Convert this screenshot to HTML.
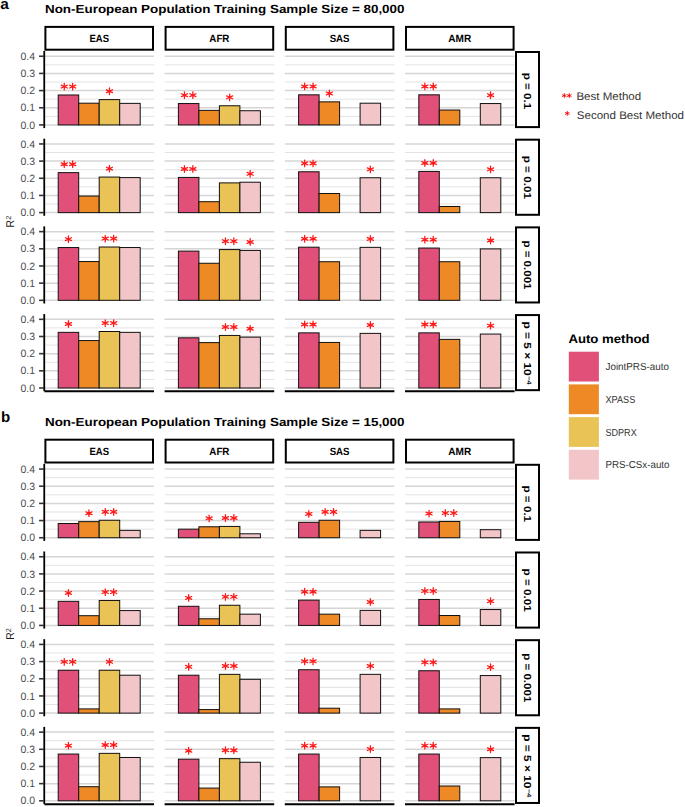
<!DOCTYPE html>
<html><head><meta charset="utf-8"><title>R2 by auto method</title>
<style>html,body{margin:0;padding:0;background:#fff;}svg{display:block;}</style>
</head><body>
<svg width="685" height="807" viewBox="0 0 685 807" text-rendering="geometricPrecision" font-family='"Liberation Sans", sans-serif'>
<rect width="685" height="807" fill="#fff"/>
<g>
<text x="0.3" y="8.8" font-size="15" font-weight="bold" textLength="8.6" lengthAdjust="spacingAndGlyphs">a</text>
<text x="45" y="13" font-size="11.8" font-weight="bold" textLength="359.5" lengthAdjust="spacingAndGlyphs">Non-European Population Training Sample Size = 80,000</text>
<rect x="45.4" y="26.9" width="107.6" height="22.8" fill="#fff" stroke="#000" stroke-width="2"/>
<text x="99.2" y="41.7" font-size="10.5" font-weight="bold" text-anchor="middle" textLength="19.6" lengthAdjust="spacingAndGlyphs">EAS</text>
<rect x="165.6" y="26.9" width="107.6" height="22.8" fill="#fff" stroke="#000" stroke-width="2"/>
<text x="219.4" y="41.7" font-size="10.5" font-weight="bold" text-anchor="middle" textLength="20.1" lengthAdjust="spacingAndGlyphs">AFR</text>
<rect x="285.8" y="26.9" width="107.6" height="22.8" fill="#fff" stroke="#000" stroke-width="2"/>
<text x="339.6" y="41.7" font-size="10.5" font-weight="bold" text-anchor="middle" textLength="19.9" lengthAdjust="spacingAndGlyphs">SAS</text>
<rect x="406" y="26.9" width="107.6" height="22.8" fill="#fff" stroke="#000" stroke-width="2"/>
<text x="459.8" y="41.7" font-size="10.5" font-weight="bold" text-anchor="middle" textLength="22.9" lengthAdjust="spacingAndGlyphs">AMR</text>
<line x1="44.4" y1="124.93" x2="154" y2="124.93" stroke="#D6D6D6" stroke-width="1.5"/>
<line x1="44.4" y1="116.35" x2="154" y2="116.35" stroke="#E3E3E3" stroke-width="1"/>
<line x1="44.4" y1="107.76" x2="154" y2="107.76" stroke="#D6D6D6" stroke-width="1.5"/>
<line x1="44.4" y1="99.18" x2="154" y2="99.18" stroke="#E3E3E3" stroke-width="1"/>
<line x1="44.4" y1="90.59" x2="154" y2="90.59" stroke="#D6D6D6" stroke-width="1.5"/>
<line x1="44.4" y1="82.01" x2="154" y2="82.01" stroke="#E3E3E3" stroke-width="1"/>
<line x1="44.4" y1="73.42" x2="154" y2="73.42" stroke="#D6D6D6" stroke-width="1.5"/>
<line x1="44.4" y1="64.84" x2="154" y2="64.84" stroke="#E3E3E3" stroke-width="1"/>
<line x1="44.4" y1="56.25" x2="154" y2="56.25" stroke="#D6D6D6" stroke-width="1.5"/>
<rect x="58.2" y="94.99" width="20.5" height="29.94" fill="#E05079" stroke="#111" stroke-width="1"/>
<rect x="78.7" y="103.2" width="20.5" height="21.73" fill="#EE8A26" stroke="#111" stroke-width="1"/>
<rect x="99.2" y="99.61" width="20.5" height="25.33" fill="#EAC356" stroke="#111" stroke-width="1"/>
<rect x="119.7" y="103.37" width="20.5" height="21.56" fill="#F2C5C9" stroke="#111" stroke-width="1"/>
<path stroke="#FF1A1A" stroke-width="1.3" stroke-linecap="round" fill="none" d="M64.25 83.29L64.25 89.89M61.21 85.17L67.29 88M61.21 88L67.29 85.17M63.5 86.59a0.75 0.75 0 1 0 1.5 0a0.75 0.75 0 1 0 -1.5 0"/>
<path stroke="#FF1A1A" stroke-width="1.3" stroke-linecap="round" fill="none" d="M72.65 83.29L72.65 89.89M69.61 85.17L75.69 88M69.61 88L75.69 85.17M71.9 86.59a0.75 0.75 0 1 0 1.5 0a0.75 0.75 0 1 0 -1.5 0"/>
<path stroke="#FF1A1A" stroke-width="1.3" stroke-linecap="round" fill="none" d="M109.45 87.91L109.45 94.5M106.41 89.79L112.49 92.62M106.41 92.62L112.49 89.79M108.7 91.2a0.75 0.75 0 1 0 1.5 0a0.75 0.75 0 1 0 -1.5 0"/>
<line x1="164.6" y1="124.93" x2="274.2" y2="124.93" stroke="#D6D6D6" stroke-width="1.5"/>
<line x1="164.6" y1="116.35" x2="274.2" y2="116.35" stroke="#E3E3E3" stroke-width="1"/>
<line x1="164.6" y1="107.76" x2="274.2" y2="107.76" stroke="#D6D6D6" stroke-width="1.5"/>
<line x1="164.6" y1="99.18" x2="274.2" y2="99.18" stroke="#E3E3E3" stroke-width="1"/>
<line x1="164.6" y1="90.59" x2="274.2" y2="90.59" stroke="#D6D6D6" stroke-width="1.5"/>
<line x1="164.6" y1="82.01" x2="274.2" y2="82.01" stroke="#E3E3E3" stroke-width="1"/>
<line x1="164.6" y1="73.42" x2="274.2" y2="73.42" stroke="#D6D6D6" stroke-width="1.5"/>
<line x1="164.6" y1="64.84" x2="274.2" y2="64.84" stroke="#E3E3E3" stroke-width="1"/>
<line x1="164.6" y1="56.25" x2="274.2" y2="56.25" stroke="#D6D6D6" stroke-width="1.5"/>
<rect x="178.4" y="103.54" width="20.5" height="21.39" fill="#E05079" stroke="#111" stroke-width="1"/>
<rect x="198.9" y="110.38" width="20.5" height="14.55" fill="#EE8A26" stroke="#111" stroke-width="1"/>
<rect x="219.4" y="105.76" width="20.5" height="19.17" fill="#EAC356" stroke="#111" stroke-width="1"/>
<rect x="239.9" y="110.72" width="20.5" height="14.21" fill="#F2C5C9" stroke="#111" stroke-width="1"/>
<path stroke="#FF1A1A" stroke-width="1.3" stroke-linecap="round" fill="none" d="M184.45 91.84L184.45 98.44M181.41 93.72L187.49 96.55M181.41 96.55L187.49 93.72M183.7 95.14a0.75 0.75 0 1 0 1.5 0a0.75 0.75 0 1 0 -1.5 0"/>
<path stroke="#FF1A1A" stroke-width="1.3" stroke-linecap="round" fill="none" d="M192.85 91.84L192.85 98.44M189.81 93.72L195.89 96.55M189.81 96.55L195.89 93.72M192.1 95.14a0.75 0.75 0 1 0 1.5 0a0.75 0.75 0 1 0 -1.5 0"/>
<path stroke="#FF1A1A" stroke-width="1.3" stroke-linecap="round" fill="none" d="M229.65 94.06L229.65 100.66M226.61 95.95L232.69 98.78M226.61 98.78L232.69 95.95M228.9 97.36a0.75 0.75 0 1 0 1.5 0a0.75 0.75 0 1 0 -1.5 0"/>
<line x1="284.8" y1="124.93" x2="394.4" y2="124.93" stroke="#D6D6D6" stroke-width="1.5"/>
<line x1="284.8" y1="116.35" x2="394.4" y2="116.35" stroke="#E3E3E3" stroke-width="1"/>
<line x1="284.8" y1="107.76" x2="394.4" y2="107.76" stroke="#D6D6D6" stroke-width="1.5"/>
<line x1="284.8" y1="99.18" x2="394.4" y2="99.18" stroke="#E3E3E3" stroke-width="1"/>
<line x1="284.8" y1="90.59" x2="394.4" y2="90.59" stroke="#D6D6D6" stroke-width="1.5"/>
<line x1="284.8" y1="82.01" x2="394.4" y2="82.01" stroke="#E3E3E3" stroke-width="1"/>
<line x1="284.8" y1="73.42" x2="394.4" y2="73.42" stroke="#D6D6D6" stroke-width="1.5"/>
<line x1="284.8" y1="64.84" x2="394.4" y2="64.84" stroke="#E3E3E3" stroke-width="1"/>
<line x1="284.8" y1="56.25" x2="394.4" y2="56.25" stroke="#D6D6D6" stroke-width="1.5"/>
<rect x="298.6" y="94.82" width="20.5" height="30.11" fill="#E05079" stroke="#111" stroke-width="1"/>
<rect x="319.1" y="101.83" width="20.5" height="23.1" fill="#EE8A26" stroke="#111" stroke-width="1"/>
<rect x="360.1" y="103.2" width="20.5" height="21.73" fill="#F2C5C9" stroke="#111" stroke-width="1"/>
<path stroke="#FF1A1A" stroke-width="1.3" stroke-linecap="round" fill="none" d="M304.65 83.12L304.65 89.72M301.61 85L307.69 87.83M301.61 87.83L307.69 85M303.9 86.42a0.75 0.75 0 1 0 1.5 0a0.75 0.75 0 1 0 -1.5 0"/>
<path stroke="#FF1A1A" stroke-width="1.3" stroke-linecap="round" fill="none" d="M313.05 83.12L313.05 89.72M310.01 85L316.09 87.83M310.01 87.83L316.09 85M312.3 86.42a0.75 0.75 0 1 0 1.5 0a0.75 0.75 0 1 0 -1.5 0"/>
<path stroke="#FF1A1A" stroke-width="1.3" stroke-linecap="round" fill="none" d="M329.35 90.13L329.35 96.73M326.31 92.01L332.39 94.84M326.31 94.84L332.39 92.01M328.6 93.43a0.75 0.75 0 1 0 1.5 0a0.75 0.75 0 1 0 -1.5 0"/>
<line x1="405" y1="124.93" x2="514.6" y2="124.93" stroke="#D6D6D6" stroke-width="1.5"/>
<line x1="405" y1="116.35" x2="514.6" y2="116.35" stroke="#E3E3E3" stroke-width="1"/>
<line x1="405" y1="107.76" x2="514.6" y2="107.76" stroke="#D6D6D6" stroke-width="1.5"/>
<line x1="405" y1="99.18" x2="514.6" y2="99.18" stroke="#E3E3E3" stroke-width="1"/>
<line x1="405" y1="90.59" x2="514.6" y2="90.59" stroke="#D6D6D6" stroke-width="1.5"/>
<line x1="405" y1="82.01" x2="514.6" y2="82.01" stroke="#E3E3E3" stroke-width="1"/>
<line x1="405" y1="73.42" x2="514.6" y2="73.42" stroke="#D6D6D6" stroke-width="1.5"/>
<line x1="405" y1="64.84" x2="514.6" y2="64.84" stroke="#E3E3E3" stroke-width="1"/>
<line x1="405" y1="56.25" x2="514.6" y2="56.25" stroke="#D6D6D6" stroke-width="1.5"/>
<rect x="418.8" y="94.82" width="20.5" height="30.11" fill="#E05079" stroke="#111" stroke-width="1"/>
<rect x="439.3" y="110.04" width="20.5" height="14.89" fill="#EE8A26" stroke="#111" stroke-width="1"/>
<rect x="480.3" y="103.54" width="20.5" height="21.39" fill="#F2C5C9" stroke="#111" stroke-width="1"/>
<path stroke="#FF1A1A" stroke-width="1.3" stroke-linecap="round" fill="none" d="M424.85 83.12L424.85 89.72M421.81 85L427.89 87.83M421.81 87.83L427.89 85M424.1 86.42a0.75 0.75 0 1 0 1.5 0a0.75 0.75 0 1 0 -1.5 0"/>
<path stroke="#FF1A1A" stroke-width="1.3" stroke-linecap="round" fill="none" d="M433.25 83.12L433.25 89.72M430.21 85L436.29 87.83M430.21 87.83L436.29 85M432.5 86.42a0.75 0.75 0 1 0 1.5 0a0.75 0.75 0 1 0 -1.5 0"/>
<path stroke="#FF1A1A" stroke-width="1.3" stroke-linecap="round" fill="none" d="M490.55 91.84L490.55 98.44M487.51 93.72L493.59 96.55M487.51 96.55L493.59 93.72M489.8 95.14a0.75 0.75 0 1 0 1.5 0a0.75 0.75 0 1 0 -1.5 0"/>
<line x1="44.25" y1="51" x2="44.25" y2="128.1" stroke="#000" stroke-width="1.8"/>
<line x1="39.1" y1="124.93" x2="44" y2="124.93" stroke="#333" stroke-width="1.6"/>
<text x="35" y="128.53" font-size="10.6" fill="#4D4D4D" text-anchor="end" textLength="14.6" lengthAdjust="spacingAndGlyphs">0.0</text>
<line x1="39.1" y1="107.76" x2="44" y2="107.76" stroke="#333" stroke-width="1.6"/>
<text x="35" y="111.36" font-size="10.6" fill="#4D4D4D" text-anchor="end" textLength="14.6" lengthAdjust="spacingAndGlyphs">0.1</text>
<line x1="39.1" y1="90.59" x2="44" y2="90.59" stroke="#333" stroke-width="1.6"/>
<text x="35" y="94.19" font-size="10.6" fill="#4D4D4D" text-anchor="end" textLength="14.6" lengthAdjust="spacingAndGlyphs">0.2</text>
<line x1="39.1" y1="73.42" x2="44" y2="73.42" stroke="#333" stroke-width="1.6"/>
<text x="35" y="77.02" font-size="10.6" fill="#4D4D4D" text-anchor="end" textLength="14.6" lengthAdjust="spacingAndGlyphs">0.3</text>
<line x1="39.1" y1="56.25" x2="44" y2="56.25" stroke="#333" stroke-width="1.6"/>
<text x="35" y="59.85" font-size="10.6" fill="#4D4D4D" text-anchor="end" textLength="14.6" lengthAdjust="spacingAndGlyphs">0.4</text>
<rect x="516" y="52" width="23" height="75.1" fill="#fff" stroke="#000" stroke-width="2"/>
<line x1="44.4" y1="212.62" x2="154" y2="212.62" stroke="#D6D6D6" stroke-width="1.5"/>
<line x1="44.4" y1="204.03" x2="154" y2="204.03" stroke="#E3E3E3" stroke-width="1"/>
<line x1="44.4" y1="195.45" x2="154" y2="195.45" stroke="#D6D6D6" stroke-width="1.5"/>
<line x1="44.4" y1="186.87" x2="154" y2="186.87" stroke="#E3E3E3" stroke-width="1"/>
<line x1="44.4" y1="178.28" x2="154" y2="178.28" stroke="#D6D6D6" stroke-width="1.5"/>
<line x1="44.4" y1="169.69" x2="154" y2="169.69" stroke="#E3E3E3" stroke-width="1"/>
<line x1="44.4" y1="161.11" x2="154" y2="161.11" stroke="#D6D6D6" stroke-width="1.5"/>
<line x1="44.4" y1="152.53" x2="154" y2="152.53" stroke="#E3E3E3" stroke-width="1"/>
<line x1="44.4" y1="143.94" x2="154" y2="143.94" stroke="#D6D6D6" stroke-width="1.5"/>
<rect x="58.2" y="172.63" width="20.5" height="39.99" fill="#E05079" stroke="#111" stroke-width="1"/>
<rect x="78.7" y="196.06" width="20.5" height="16.56" fill="#EE8A26" stroke="#111" stroke-width="1"/>
<rect x="99.2" y="177.07" width="20.5" height="35.55" fill="#EAC356" stroke="#111" stroke-width="1"/>
<rect x="119.7" y="177.59" width="20.5" height="35.03" fill="#F2C5C9" stroke="#111" stroke-width="1"/>
<path stroke="#FF1A1A" stroke-width="1.3" stroke-linecap="round" fill="none" d="M64.25 160.93L64.25 167.53M61.21 162.81L67.29 165.64M61.21 165.64L67.29 162.81M63.5 164.23a0.75 0.75 0 1 0 1.5 0a0.75 0.75 0 1 0 -1.5 0"/>
<path stroke="#FF1A1A" stroke-width="1.3" stroke-linecap="round" fill="none" d="M72.65 160.93L72.65 167.53M69.61 162.81L75.69 165.64M69.61 165.64L75.69 162.81M71.9 164.23a0.75 0.75 0 1 0 1.5 0a0.75 0.75 0 1 0 -1.5 0"/>
<path stroke="#FF1A1A" stroke-width="1.3" stroke-linecap="round" fill="none" d="M109.45 165.37L109.45 171.97M106.41 167.26L112.49 170.09M106.41 170.09L112.49 167.26M108.7 168.67a0.75 0.75 0 1 0 1.5 0a0.75 0.75 0 1 0 -1.5 0"/>
<line x1="164.6" y1="212.62" x2="274.2" y2="212.62" stroke="#D6D6D6" stroke-width="1.5"/>
<line x1="164.6" y1="204.03" x2="274.2" y2="204.03" stroke="#E3E3E3" stroke-width="1"/>
<line x1="164.6" y1="195.45" x2="274.2" y2="195.45" stroke="#D6D6D6" stroke-width="1.5"/>
<line x1="164.6" y1="186.87" x2="274.2" y2="186.87" stroke="#E3E3E3" stroke-width="1"/>
<line x1="164.6" y1="178.28" x2="274.2" y2="178.28" stroke="#D6D6D6" stroke-width="1.5"/>
<line x1="164.6" y1="169.69" x2="274.2" y2="169.69" stroke="#E3E3E3" stroke-width="1"/>
<line x1="164.6" y1="161.11" x2="274.2" y2="161.11" stroke="#D6D6D6" stroke-width="1.5"/>
<line x1="164.6" y1="152.53" x2="274.2" y2="152.53" stroke="#E3E3E3" stroke-width="1"/>
<line x1="164.6" y1="143.94" x2="274.2" y2="143.94" stroke="#D6D6D6" stroke-width="1.5"/>
<rect x="178.4" y="177.42" width="20.5" height="35.2" fill="#E05079" stroke="#111" stroke-width="1"/>
<rect x="198.9" y="201.7" width="20.5" height="10.92" fill="#EE8A26" stroke="#111" stroke-width="1"/>
<rect x="219.4" y="182.89" width="20.5" height="29.73" fill="#EAC356" stroke="#111" stroke-width="1"/>
<rect x="239.9" y="182.2" width="20.5" height="30.42" fill="#F2C5C9" stroke="#111" stroke-width="1"/>
<path stroke="#FF1A1A" stroke-width="1.3" stroke-linecap="round" fill="none" d="M184.45 165.72L184.45 172.32M181.41 167.6L187.49 170.43M181.41 170.43L187.49 167.6M183.7 169.02a0.75 0.75 0 1 0 1.5 0a0.75 0.75 0 1 0 -1.5 0"/>
<path stroke="#FF1A1A" stroke-width="1.3" stroke-linecap="round" fill="none" d="M192.85 165.72L192.85 172.32M189.81 167.6L195.89 170.43M189.81 170.43L195.89 167.6M192.1 169.02a0.75 0.75 0 1 0 1.5 0a0.75 0.75 0 1 0 -1.5 0"/>
<path stroke="#FF1A1A" stroke-width="1.3" stroke-linecap="round" fill="none" d="M250.15 170.5L250.15 177.1M247.11 172.39L253.19 175.22M247.11 175.22L253.19 172.39M249.4 173.8a0.75 0.75 0 1 0 1.5 0a0.75 0.75 0 1 0 -1.5 0"/>
<line x1="284.8" y1="212.62" x2="394.4" y2="212.62" stroke="#D6D6D6" stroke-width="1.5"/>
<line x1="284.8" y1="204.03" x2="394.4" y2="204.03" stroke="#E3E3E3" stroke-width="1"/>
<line x1="284.8" y1="195.45" x2="394.4" y2="195.45" stroke="#D6D6D6" stroke-width="1.5"/>
<line x1="284.8" y1="186.87" x2="394.4" y2="186.87" stroke="#E3E3E3" stroke-width="1"/>
<line x1="284.8" y1="178.28" x2="394.4" y2="178.28" stroke="#D6D6D6" stroke-width="1.5"/>
<line x1="284.8" y1="169.69" x2="394.4" y2="169.69" stroke="#E3E3E3" stroke-width="1"/>
<line x1="284.8" y1="161.11" x2="394.4" y2="161.11" stroke="#D6D6D6" stroke-width="1.5"/>
<line x1="284.8" y1="152.53" x2="394.4" y2="152.53" stroke="#E3E3E3" stroke-width="1"/>
<line x1="284.8" y1="143.94" x2="394.4" y2="143.94" stroke="#D6D6D6" stroke-width="1.5"/>
<rect x="298.6" y="171.77" width="20.5" height="40.85" fill="#E05079" stroke="#111" stroke-width="1"/>
<rect x="319.1" y="193.49" width="20.5" height="19.13" fill="#EE8A26" stroke="#111" stroke-width="1"/>
<rect x="360.1" y="177.76" width="20.5" height="34.86" fill="#F2C5C9" stroke="#111" stroke-width="1"/>
<path stroke="#FF1A1A" stroke-width="1.3" stroke-linecap="round" fill="none" d="M304.65 160.07L304.65 166.67M301.61 161.96L307.69 164.79M301.61 164.79L307.69 161.96M303.9 163.37a0.75 0.75 0 1 0 1.5 0a0.75 0.75 0 1 0 -1.5 0"/>
<path stroke="#FF1A1A" stroke-width="1.3" stroke-linecap="round" fill="none" d="M313.05 160.07L313.05 166.67M310.01 161.96L316.09 164.79M310.01 164.79L316.09 161.96M312.3 163.37a0.75 0.75 0 1 0 1.5 0a0.75 0.75 0 1 0 -1.5 0"/>
<path stroke="#FF1A1A" stroke-width="1.3" stroke-linecap="round" fill="none" d="M370.35 166.06L370.35 172.66M367.31 167.94L373.39 170.77M367.31 170.77L373.39 167.94M369.6 169.36a0.75 0.75 0 1 0 1.5 0a0.75 0.75 0 1 0 -1.5 0"/>
<line x1="405" y1="212.62" x2="514.6" y2="212.62" stroke="#D6D6D6" stroke-width="1.5"/>
<line x1="405" y1="204.03" x2="514.6" y2="204.03" stroke="#E3E3E3" stroke-width="1"/>
<line x1="405" y1="195.45" x2="514.6" y2="195.45" stroke="#D6D6D6" stroke-width="1.5"/>
<line x1="405" y1="186.87" x2="514.6" y2="186.87" stroke="#E3E3E3" stroke-width="1"/>
<line x1="405" y1="178.28" x2="514.6" y2="178.28" stroke="#D6D6D6" stroke-width="1.5"/>
<line x1="405" y1="169.69" x2="514.6" y2="169.69" stroke="#E3E3E3" stroke-width="1"/>
<line x1="405" y1="161.11" x2="514.6" y2="161.11" stroke="#D6D6D6" stroke-width="1.5"/>
<line x1="405" y1="152.53" x2="514.6" y2="152.53" stroke="#E3E3E3" stroke-width="1"/>
<line x1="405" y1="143.94" x2="514.6" y2="143.94" stroke="#D6D6D6" stroke-width="1.5"/>
<rect x="418.8" y="171.43" width="20.5" height="41.19" fill="#E05079" stroke="#111" stroke-width="1"/>
<rect x="439.3" y="206.49" width="20.5" height="6.13" fill="#EE8A26" stroke="#111" stroke-width="1"/>
<rect x="480.3" y="177.76" width="20.5" height="34.86" fill="#F2C5C9" stroke="#111" stroke-width="1"/>
<path stroke="#FF1A1A" stroke-width="1.3" stroke-linecap="round" fill="none" d="M424.85 159.73L424.85 166.33M421.81 161.62L427.89 164.45M421.81 164.45L427.89 161.62M424.1 163.03a0.75 0.75 0 1 0 1.5 0a0.75 0.75 0 1 0 -1.5 0"/>
<path stroke="#FF1A1A" stroke-width="1.3" stroke-linecap="round" fill="none" d="M433.25 159.73L433.25 166.33M430.21 161.62L436.29 164.45M430.21 164.45L436.29 161.62M432.5 163.03a0.75 0.75 0 1 0 1.5 0a0.75 0.75 0 1 0 -1.5 0"/>
<path stroke="#FF1A1A" stroke-width="1.3" stroke-linecap="round" fill="none" d="M490.55 166.06L490.55 172.66M487.51 167.94L493.59 170.77M487.51 170.77L493.59 167.94M489.8 169.36a0.75 0.75 0 1 0 1.5 0a0.75 0.75 0 1 0 -1.5 0"/>
<line x1="44.25" y1="138.69" x2="44.25" y2="215.79" stroke="#000" stroke-width="1.8"/>
<line x1="39.1" y1="212.62" x2="44" y2="212.62" stroke="#333" stroke-width="1.6"/>
<text x="35" y="216.22" font-size="10.6" fill="#4D4D4D" text-anchor="end" textLength="14.6" lengthAdjust="spacingAndGlyphs">0.0</text>
<line x1="39.1" y1="195.45" x2="44" y2="195.45" stroke="#333" stroke-width="1.6"/>
<text x="35" y="199.05" font-size="10.6" fill="#4D4D4D" text-anchor="end" textLength="14.6" lengthAdjust="spacingAndGlyphs">0.1</text>
<line x1="39.1" y1="178.28" x2="44" y2="178.28" stroke="#333" stroke-width="1.6"/>
<text x="35" y="181.88" font-size="10.6" fill="#4D4D4D" text-anchor="end" textLength="14.6" lengthAdjust="spacingAndGlyphs">0.2</text>
<line x1="39.1" y1="161.11" x2="44" y2="161.11" stroke="#333" stroke-width="1.6"/>
<text x="35" y="164.71" font-size="10.6" fill="#4D4D4D" text-anchor="end" textLength="14.6" lengthAdjust="spacingAndGlyphs">0.3</text>
<line x1="39.1" y1="143.94" x2="44" y2="143.94" stroke="#333" stroke-width="1.6"/>
<text x="35" y="147.54" font-size="10.6" fill="#4D4D4D" text-anchor="end" textLength="14.6" lengthAdjust="spacingAndGlyphs">0.4</text>
<rect x="516" y="139.69" width="23" height="75.1" fill="#fff" stroke="#000" stroke-width="2"/>
<line x1="44.4" y1="300.31" x2="154" y2="300.31" stroke="#D6D6D6" stroke-width="1.5"/>
<line x1="44.4" y1="291.73" x2="154" y2="291.73" stroke="#E3E3E3" stroke-width="1"/>
<line x1="44.4" y1="283.14" x2="154" y2="283.14" stroke="#D6D6D6" stroke-width="1.5"/>
<line x1="44.4" y1="274.56" x2="154" y2="274.56" stroke="#E3E3E3" stroke-width="1"/>
<line x1="44.4" y1="265.97" x2="154" y2="265.97" stroke="#D6D6D6" stroke-width="1.5"/>
<line x1="44.4" y1="257.38" x2="154" y2="257.38" stroke="#E3E3E3" stroke-width="1"/>
<line x1="44.4" y1="248.8" x2="154" y2="248.8" stroke="#D6D6D6" stroke-width="1.5"/>
<line x1="44.4" y1="240.22" x2="154" y2="240.22" stroke="#E3E3E3" stroke-width="1"/>
<line x1="44.4" y1="231.63" x2="154" y2="231.63" stroke="#D6D6D6" stroke-width="1.5"/>
<rect x="58.2" y="247.53" width="20.5" height="52.78" fill="#E05079" stroke="#111" stroke-width="1"/>
<rect x="78.7" y="261.55" width="20.5" height="38.76" fill="#EE8A26" stroke="#111" stroke-width="1"/>
<rect x="99.2" y="247.02" width="20.5" height="53.29" fill="#EAC356" stroke="#111" stroke-width="1"/>
<rect x="119.7" y="247.53" width="20.5" height="52.78" fill="#F2C5C9" stroke="#111" stroke-width="1"/>
<path stroke="#FF1A1A" stroke-width="1.3" stroke-linecap="round" fill="none" d="M105.25 235.32L105.25 241.92M102.21 237.2L108.29 240.03M102.21 240.03L108.29 237.2M104.5 238.62a0.75 0.75 0 1 0 1.5 0a0.75 0.75 0 1 0 -1.5 0"/>
<path stroke="#FF1A1A" stroke-width="1.3" stroke-linecap="round" fill="none" d="M113.65 235.32L113.65 241.92M110.61 237.2L116.69 240.03M110.61 240.03L116.69 237.2M112.9 238.62a0.75 0.75 0 1 0 1.5 0a0.75 0.75 0 1 0 -1.5 0"/>
<path stroke="#FF1A1A" stroke-width="1.3" stroke-linecap="round" fill="none" d="M68.45 235.83L68.45 242.43M65.41 237.72L71.49 240.55M65.41 240.55L71.49 237.72M67.7 239.13a0.75 0.75 0 1 0 1.5 0a0.75 0.75 0 1 0 -1.5 0"/>
<line x1="164.6" y1="300.31" x2="274.2" y2="300.31" stroke="#D6D6D6" stroke-width="1.5"/>
<line x1="164.6" y1="291.73" x2="274.2" y2="291.73" stroke="#E3E3E3" stroke-width="1"/>
<line x1="164.6" y1="283.14" x2="274.2" y2="283.14" stroke="#D6D6D6" stroke-width="1.5"/>
<line x1="164.6" y1="274.56" x2="274.2" y2="274.56" stroke="#E3E3E3" stroke-width="1"/>
<line x1="164.6" y1="265.97" x2="274.2" y2="265.97" stroke="#D6D6D6" stroke-width="1.5"/>
<line x1="164.6" y1="257.38" x2="274.2" y2="257.38" stroke="#E3E3E3" stroke-width="1"/>
<line x1="164.6" y1="248.8" x2="274.2" y2="248.8" stroke="#D6D6D6" stroke-width="1.5"/>
<line x1="164.6" y1="240.22" x2="274.2" y2="240.22" stroke="#E3E3E3" stroke-width="1"/>
<line x1="164.6" y1="231.63" x2="274.2" y2="231.63" stroke="#D6D6D6" stroke-width="1.5"/>
<rect x="178.4" y="251.12" width="20.5" height="49.19" fill="#E05079" stroke="#111" stroke-width="1"/>
<rect x="198.9" y="263.26" width="20.5" height="37.05" fill="#EE8A26" stroke="#111" stroke-width="1"/>
<rect x="219.4" y="249.58" width="20.5" height="50.73" fill="#EAC356" stroke="#111" stroke-width="1"/>
<rect x="239.9" y="250.44" width="20.5" height="49.87" fill="#F2C5C9" stroke="#111" stroke-width="1"/>
<path stroke="#FF1A1A" stroke-width="1.3" stroke-linecap="round" fill="none" d="M225.45 237.88L225.45 244.48M222.41 239.77L228.49 242.6M222.41 242.6L228.49 239.77M224.7 241.18a0.75 0.75 0 1 0 1.5 0a0.75 0.75 0 1 0 -1.5 0"/>
<path stroke="#FF1A1A" stroke-width="1.3" stroke-linecap="round" fill="none" d="M233.85 237.88L233.85 244.48M230.81 239.77L236.89 242.6M230.81 242.6L236.89 239.77M233.1 241.18a0.75 0.75 0 1 0 1.5 0a0.75 0.75 0 1 0 -1.5 0"/>
<path stroke="#FF1A1A" stroke-width="1.3" stroke-linecap="round" fill="none" d="M250.15 238.74L250.15 245.34M247.11 240.62L253.19 243.45M247.11 243.45L253.19 240.62M249.4 242.04a0.75 0.75 0 1 0 1.5 0a0.75 0.75 0 1 0 -1.5 0"/>
<line x1="284.8" y1="300.31" x2="394.4" y2="300.31" stroke="#D6D6D6" stroke-width="1.5"/>
<line x1="284.8" y1="291.73" x2="394.4" y2="291.73" stroke="#E3E3E3" stroke-width="1"/>
<line x1="284.8" y1="283.14" x2="394.4" y2="283.14" stroke="#D6D6D6" stroke-width="1.5"/>
<line x1="284.8" y1="274.56" x2="394.4" y2="274.56" stroke="#E3E3E3" stroke-width="1"/>
<line x1="284.8" y1="265.97" x2="394.4" y2="265.97" stroke="#D6D6D6" stroke-width="1.5"/>
<line x1="284.8" y1="257.38" x2="394.4" y2="257.38" stroke="#E3E3E3" stroke-width="1"/>
<line x1="284.8" y1="248.8" x2="394.4" y2="248.8" stroke="#D6D6D6" stroke-width="1.5"/>
<line x1="284.8" y1="240.22" x2="394.4" y2="240.22" stroke="#E3E3E3" stroke-width="1"/>
<line x1="284.8" y1="231.63" x2="394.4" y2="231.63" stroke="#D6D6D6" stroke-width="1.5"/>
<rect x="298.6" y="247.19" width="20.5" height="53.12" fill="#E05079" stroke="#111" stroke-width="1"/>
<rect x="319.1" y="261.73" width="20.5" height="38.58" fill="#EE8A26" stroke="#111" stroke-width="1"/>
<rect x="360.1" y="247.36" width="20.5" height="52.95" fill="#F2C5C9" stroke="#111" stroke-width="1"/>
<path stroke="#FF1A1A" stroke-width="1.3" stroke-linecap="round" fill="none" d="M304.65 235.49L304.65 242.09M301.61 237.37L307.69 240.21M301.61 240.21L307.69 237.37M303.9 238.79a0.75 0.75 0 1 0 1.5 0a0.75 0.75 0 1 0 -1.5 0"/>
<path stroke="#FF1A1A" stroke-width="1.3" stroke-linecap="round" fill="none" d="M313.05 235.49L313.05 242.09M310.01 237.37L316.09 240.21M310.01 240.21L316.09 237.37M312.3 238.79a0.75 0.75 0 1 0 1.5 0a0.75 0.75 0 1 0 -1.5 0"/>
<path stroke="#FF1A1A" stroke-width="1.3" stroke-linecap="round" fill="none" d="M370.35 235.66L370.35 242.26M367.31 237.55L373.39 240.38M367.31 240.38L373.39 237.55M369.6 238.96a0.75 0.75 0 1 0 1.5 0a0.75 0.75 0 1 0 -1.5 0"/>
<line x1="405" y1="300.31" x2="514.6" y2="300.31" stroke="#D6D6D6" stroke-width="1.5"/>
<line x1="405" y1="291.73" x2="514.6" y2="291.73" stroke="#E3E3E3" stroke-width="1"/>
<line x1="405" y1="283.14" x2="514.6" y2="283.14" stroke="#D6D6D6" stroke-width="1.5"/>
<line x1="405" y1="274.56" x2="514.6" y2="274.56" stroke="#E3E3E3" stroke-width="1"/>
<line x1="405" y1="265.97" x2="514.6" y2="265.97" stroke="#D6D6D6" stroke-width="1.5"/>
<line x1="405" y1="257.38" x2="514.6" y2="257.38" stroke="#E3E3E3" stroke-width="1"/>
<line x1="405" y1="248.8" x2="514.6" y2="248.8" stroke="#D6D6D6" stroke-width="1.5"/>
<line x1="405" y1="240.22" x2="514.6" y2="240.22" stroke="#E3E3E3" stroke-width="1"/>
<line x1="405" y1="231.63" x2="514.6" y2="231.63" stroke="#D6D6D6" stroke-width="1.5"/>
<rect x="418.8" y="248.05" width="20.5" height="52.26" fill="#E05079" stroke="#111" stroke-width="1"/>
<rect x="439.3" y="261.73" width="20.5" height="38.58" fill="#EE8A26" stroke="#111" stroke-width="1"/>
<rect x="480.3" y="248.9" width="20.5" height="51.41" fill="#F2C5C9" stroke="#111" stroke-width="1"/>
<path stroke="#FF1A1A" stroke-width="1.3" stroke-linecap="round" fill="none" d="M424.85 236.35L424.85 242.95M421.81 238.23L427.89 241.06M421.81 241.06L427.89 238.23M424.1 239.65a0.75 0.75 0 1 0 1.5 0a0.75 0.75 0 1 0 -1.5 0"/>
<path stroke="#FF1A1A" stroke-width="1.3" stroke-linecap="round" fill="none" d="M433.25 236.35L433.25 242.95M430.21 238.23L436.29 241.06M430.21 241.06L436.29 238.23M432.5 239.65a0.75 0.75 0 1 0 1.5 0a0.75 0.75 0 1 0 -1.5 0"/>
<path stroke="#FF1A1A" stroke-width="1.3" stroke-linecap="round" fill="none" d="M490.55 237.2L490.55 243.8M487.51 239.08L493.59 241.92M487.51 241.92L493.59 239.08M489.8 240.5a0.75 0.75 0 1 0 1.5 0a0.75 0.75 0 1 0 -1.5 0"/>
<line x1="44.25" y1="226.38" x2="44.25" y2="303.48" stroke="#000" stroke-width="1.8"/>
<line x1="39.1" y1="300.31" x2="44" y2="300.31" stroke="#333" stroke-width="1.6"/>
<text x="35" y="303.91" font-size="10.6" fill="#4D4D4D" text-anchor="end" textLength="14.6" lengthAdjust="spacingAndGlyphs">0.0</text>
<line x1="39.1" y1="283.14" x2="44" y2="283.14" stroke="#333" stroke-width="1.6"/>
<text x="35" y="286.74" font-size="10.6" fill="#4D4D4D" text-anchor="end" textLength="14.6" lengthAdjust="spacingAndGlyphs">0.1</text>
<line x1="39.1" y1="265.97" x2="44" y2="265.97" stroke="#333" stroke-width="1.6"/>
<text x="35" y="269.57" font-size="10.6" fill="#4D4D4D" text-anchor="end" textLength="14.6" lengthAdjust="spacingAndGlyphs">0.2</text>
<line x1="39.1" y1="248.8" x2="44" y2="248.8" stroke="#333" stroke-width="1.6"/>
<text x="35" y="252.4" font-size="10.6" fill="#4D4D4D" text-anchor="end" textLength="14.6" lengthAdjust="spacingAndGlyphs">0.3</text>
<line x1="39.1" y1="231.63" x2="44" y2="231.63" stroke="#333" stroke-width="1.6"/>
<text x="35" y="235.23" font-size="10.6" fill="#4D4D4D" text-anchor="end" textLength="14.6" lengthAdjust="spacingAndGlyphs">0.4</text>
<rect x="516" y="227.38" width="23" height="75.1" fill="#fff" stroke="#000" stroke-width="2"/>
<line x1="44.4" y1="388" x2="154" y2="388" stroke="#D6D6D6" stroke-width="1.5"/>
<line x1="44.4" y1="379.42" x2="154" y2="379.42" stroke="#E3E3E3" stroke-width="1"/>
<line x1="44.4" y1="370.83" x2="154" y2="370.83" stroke="#D6D6D6" stroke-width="1.5"/>
<line x1="44.4" y1="362.25" x2="154" y2="362.25" stroke="#E3E3E3" stroke-width="1"/>
<line x1="44.4" y1="353.66" x2="154" y2="353.66" stroke="#D6D6D6" stroke-width="1.5"/>
<line x1="44.4" y1="345.07" x2="154" y2="345.07" stroke="#E3E3E3" stroke-width="1"/>
<line x1="44.4" y1="336.49" x2="154" y2="336.49" stroke="#D6D6D6" stroke-width="1.5"/>
<line x1="44.4" y1="327.9" x2="154" y2="327.9" stroke="#E3E3E3" stroke-width="1"/>
<line x1="44.4" y1="319.32" x2="154" y2="319.32" stroke="#D6D6D6" stroke-width="1.5"/>
<rect x="58.2" y="332.35" width="20.5" height="55.65" fill="#E05079" stroke="#111" stroke-width="1"/>
<rect x="78.7" y="340.56" width="20.5" height="47.44" fill="#EE8A26" stroke="#111" stroke-width="1"/>
<rect x="99.2" y="331.5" width="20.5" height="56.5" fill="#EAC356" stroke="#111" stroke-width="1"/>
<rect x="119.7" y="332.35" width="20.5" height="55.65" fill="#F2C5C9" stroke="#111" stroke-width="1"/>
<path stroke="#FF1A1A" stroke-width="1.3" stroke-linecap="round" fill="none" d="M105.25 319.8L105.25 326.4M102.21 321.68L108.29 324.51M102.21 324.51L108.29 321.68M104.5 323.1a0.75 0.75 0 1 0 1.5 0a0.75 0.75 0 1 0 -1.5 0"/>
<path stroke="#FF1A1A" stroke-width="1.3" stroke-linecap="round" fill="none" d="M113.65 319.8L113.65 326.4M110.61 321.68L116.69 324.51M110.61 324.51L116.69 321.68M112.9 323.1a0.75 0.75 0 1 0 1.5 0a0.75 0.75 0 1 0 -1.5 0"/>
<path stroke="#FF1A1A" stroke-width="1.3" stroke-linecap="round" fill="none" d="M68.45 320.65L68.45 327.25M65.41 322.54L71.49 325.37M65.41 325.37L71.49 322.54M67.7 323.95a0.75 0.75 0 1 0 1.5 0a0.75 0.75 0 1 0 -1.5 0"/>
<line x1="164.6" y1="388" x2="274.2" y2="388" stroke="#D6D6D6" stroke-width="1.5"/>
<line x1="164.6" y1="379.42" x2="274.2" y2="379.42" stroke="#E3E3E3" stroke-width="1"/>
<line x1="164.6" y1="370.83" x2="274.2" y2="370.83" stroke="#D6D6D6" stroke-width="1.5"/>
<line x1="164.6" y1="362.25" x2="274.2" y2="362.25" stroke="#E3E3E3" stroke-width="1"/>
<line x1="164.6" y1="353.66" x2="274.2" y2="353.66" stroke="#D6D6D6" stroke-width="1.5"/>
<line x1="164.6" y1="345.07" x2="274.2" y2="345.07" stroke="#E3E3E3" stroke-width="1"/>
<line x1="164.6" y1="336.49" x2="274.2" y2="336.49" stroke="#D6D6D6" stroke-width="1.5"/>
<line x1="164.6" y1="327.9" x2="274.2" y2="327.9" stroke="#E3E3E3" stroke-width="1"/>
<line x1="164.6" y1="319.32" x2="274.2" y2="319.32" stroke="#D6D6D6" stroke-width="1.5"/>
<rect x="178.4" y="337.83" width="20.5" height="50.17" fill="#E05079" stroke="#111" stroke-width="1"/>
<rect x="198.9" y="342.61" width="20.5" height="45.39" fill="#EE8A26" stroke="#111" stroke-width="1"/>
<rect x="219.4" y="335.43" width="20.5" height="52.57" fill="#EAC356" stroke="#111" stroke-width="1"/>
<rect x="239.9" y="337.14" width="20.5" height="50.86" fill="#F2C5C9" stroke="#111" stroke-width="1"/>
<path stroke="#FF1A1A" stroke-width="1.3" stroke-linecap="round" fill="none" d="M225.45 323.73L225.45 330.33M222.41 325.62L228.49 328.45M222.41 328.45L228.49 325.62M224.7 327.03a0.75 0.75 0 1 0 1.5 0a0.75 0.75 0 1 0 -1.5 0"/>
<path stroke="#FF1A1A" stroke-width="1.3" stroke-linecap="round" fill="none" d="M233.85 323.73L233.85 330.33M230.81 325.62L236.89 328.45M230.81 328.45L236.89 325.62M233.1 327.03a0.75 0.75 0 1 0 1.5 0a0.75 0.75 0 1 0 -1.5 0"/>
<path stroke="#FF1A1A" stroke-width="1.3" stroke-linecap="round" fill="none" d="M250.15 325.44L250.15 332.04M247.11 327.33L253.19 330.16M247.11 330.16L253.19 327.33M249.4 328.74a0.75 0.75 0 1 0 1.5 0a0.75 0.75 0 1 0 -1.5 0"/>
<line x1="284.8" y1="388" x2="394.4" y2="388" stroke="#D6D6D6" stroke-width="1.5"/>
<line x1="284.8" y1="379.42" x2="394.4" y2="379.42" stroke="#E3E3E3" stroke-width="1"/>
<line x1="284.8" y1="370.83" x2="394.4" y2="370.83" stroke="#D6D6D6" stroke-width="1.5"/>
<line x1="284.8" y1="362.25" x2="394.4" y2="362.25" stroke="#E3E3E3" stroke-width="1"/>
<line x1="284.8" y1="353.66" x2="394.4" y2="353.66" stroke="#D6D6D6" stroke-width="1.5"/>
<line x1="284.8" y1="345.07" x2="394.4" y2="345.07" stroke="#E3E3E3" stroke-width="1"/>
<line x1="284.8" y1="336.49" x2="394.4" y2="336.49" stroke="#D6D6D6" stroke-width="1.5"/>
<line x1="284.8" y1="327.9" x2="394.4" y2="327.9" stroke="#E3E3E3" stroke-width="1"/>
<line x1="284.8" y1="319.32" x2="394.4" y2="319.32" stroke="#D6D6D6" stroke-width="1.5"/>
<rect x="298.6" y="332.87" width="20.5" height="55.13" fill="#E05079" stroke="#111" stroke-width="1"/>
<rect x="319.1" y="342.44" width="20.5" height="45.56" fill="#EE8A26" stroke="#111" stroke-width="1"/>
<rect x="360.1" y="333.38" width="20.5" height="54.62" fill="#F2C5C9" stroke="#111" stroke-width="1"/>
<path stroke="#FF1A1A" stroke-width="1.3" stroke-linecap="round" fill="none" d="M304.65 321.17L304.65 327.77M301.61 323.05L307.69 325.88M301.61 325.88L307.69 323.05M303.9 324.47a0.75 0.75 0 1 0 1.5 0a0.75 0.75 0 1 0 -1.5 0"/>
<path stroke="#FF1A1A" stroke-width="1.3" stroke-linecap="round" fill="none" d="M313.05 321.17L313.05 327.77M310.01 323.05L316.09 325.88M310.01 325.88L316.09 323.05M312.3 324.47a0.75 0.75 0 1 0 1.5 0a0.75 0.75 0 1 0 -1.5 0"/>
<path stroke="#FF1A1A" stroke-width="1.3" stroke-linecap="round" fill="none" d="M370.35 321.68L370.35 328.28M367.31 323.56L373.39 326.4M367.31 326.4L373.39 323.56M369.6 324.98a0.75 0.75 0 1 0 1.5 0a0.75 0.75 0 1 0 -1.5 0"/>
<line x1="405" y1="388" x2="514.6" y2="388" stroke="#D6D6D6" stroke-width="1.5"/>
<line x1="405" y1="379.42" x2="514.6" y2="379.42" stroke="#E3E3E3" stroke-width="1"/>
<line x1="405" y1="370.83" x2="514.6" y2="370.83" stroke="#D6D6D6" stroke-width="1.5"/>
<line x1="405" y1="362.25" x2="514.6" y2="362.25" stroke="#E3E3E3" stroke-width="1"/>
<line x1="405" y1="353.66" x2="514.6" y2="353.66" stroke="#D6D6D6" stroke-width="1.5"/>
<line x1="405" y1="345.07" x2="514.6" y2="345.07" stroke="#E3E3E3" stroke-width="1"/>
<line x1="405" y1="336.49" x2="514.6" y2="336.49" stroke="#D6D6D6" stroke-width="1.5"/>
<line x1="405" y1="327.9" x2="514.6" y2="327.9" stroke="#E3E3E3" stroke-width="1"/>
<line x1="405" y1="319.32" x2="514.6" y2="319.32" stroke="#D6D6D6" stroke-width="1.5"/>
<rect x="418.8" y="332.87" width="20.5" height="55.13" fill="#E05079" stroke="#111" stroke-width="1"/>
<rect x="439.3" y="339.37" width="20.5" height="48.63" fill="#EE8A26" stroke="#111" stroke-width="1"/>
<rect x="480.3" y="334.06" width="20.5" height="53.94" fill="#F2C5C9" stroke="#111" stroke-width="1"/>
<path stroke="#FF1A1A" stroke-width="1.3" stroke-linecap="round" fill="none" d="M424.85 321.17L424.85 327.77M421.81 323.05L427.89 325.88M421.81 325.88L427.89 323.05M424.1 324.47a0.75 0.75 0 1 0 1.5 0a0.75 0.75 0 1 0 -1.5 0"/>
<path stroke="#FF1A1A" stroke-width="1.3" stroke-linecap="round" fill="none" d="M433.25 321.17L433.25 327.77M430.21 323.05L436.29 325.88M430.21 325.88L436.29 323.05M432.5 324.47a0.75 0.75 0 1 0 1.5 0a0.75 0.75 0 1 0 -1.5 0"/>
<path stroke="#FF1A1A" stroke-width="1.3" stroke-linecap="round" fill="none" d="M490.55 322.36L490.55 328.96M487.51 324.25L493.59 327.08M487.51 327.08L493.59 324.25M489.8 325.66a0.75 0.75 0 1 0 1.5 0a0.75 0.75 0 1 0 -1.5 0"/>
<line x1="44.25" y1="314.07" x2="44.25" y2="391.17" stroke="#000" stroke-width="1.8"/>
<line x1="39.1" y1="388" x2="44" y2="388" stroke="#333" stroke-width="1.6"/>
<text x="35" y="391.6" font-size="10.6" fill="#4D4D4D" text-anchor="end" textLength="14.6" lengthAdjust="spacingAndGlyphs">0.0</text>
<line x1="39.1" y1="370.83" x2="44" y2="370.83" stroke="#333" stroke-width="1.6"/>
<text x="35" y="374.43" font-size="10.6" fill="#4D4D4D" text-anchor="end" textLength="14.6" lengthAdjust="spacingAndGlyphs">0.1</text>
<line x1="39.1" y1="353.66" x2="44" y2="353.66" stroke="#333" stroke-width="1.6"/>
<text x="35" y="357.26" font-size="10.6" fill="#4D4D4D" text-anchor="end" textLength="14.6" lengthAdjust="spacingAndGlyphs">0.2</text>
<line x1="39.1" y1="336.49" x2="44" y2="336.49" stroke="#333" stroke-width="1.6"/>
<text x="35" y="340.09" font-size="10.6" fill="#4D4D4D" text-anchor="end" textLength="14.6" lengthAdjust="spacingAndGlyphs">0.3</text>
<line x1="39.1" y1="319.32" x2="44" y2="319.32" stroke="#333" stroke-width="1.6"/>
<text x="35" y="322.92" font-size="10.6" fill="#4D4D4D" text-anchor="end" textLength="14.6" lengthAdjust="spacingAndGlyphs">0.4</text>
<rect x="516" y="315.07" width="23" height="75.1" fill="#fff" stroke="#000" stroke-width="2"/>
<text transform="translate(524.2 72.7) rotate(90)" font-size="10.2" font-weight="bold" textLength="36.6" lengthAdjust="spacingAndGlyphs">p = 0.1</text>
<text transform="translate(524.2 155.7) rotate(90)" font-size="10.2" font-weight="bold" textLength="43.2" lengthAdjust="spacingAndGlyphs">p = 0.01</text>
<text transform="translate(524.2 240.4) rotate(90)" font-size="10.2" font-weight="bold" textLength="49.1" lengthAdjust="spacingAndGlyphs">p = 0.001</text>
<text transform="translate(524.2 321.4) rotate(90)" font-size="10.2" font-weight="bold"><tspan textLength="54.3" lengthAdjust="spacingAndGlyphs">p = 5 × 10</tspan><tspan font-size="6.2" dx="0.5" dy="-2.6" textLength="8.3" lengthAdjust="spacingAndGlyphs">−4</tspan></text>
<line x1="44.4" y1="391.37" x2="154" y2="391.37" stroke="#000" stroke-width="2"/>
<line x1="164.6" y1="391.37" x2="274.2" y2="391.37" stroke="#000" stroke-width="2"/>
<line x1="284.8" y1="391.37" x2="394.4" y2="391.37" stroke="#000" stroke-width="2"/>
<line x1="405" y1="391.37" x2="514.6" y2="391.37" stroke="#000" stroke-width="2"/>
<text transform="translate(14.4 227.4) rotate(-90)" font-size="11.3" fill="#1a1a1a"><tspan textLength="7.6" lengthAdjust="spacingAndGlyphs">R</tspan><tspan font-size="7.2" dy="-3.0">2</tspan></text>
<text x="1.1" y="421.6" font-size="15" font-weight="bold" textLength="9.2" lengthAdjust="spacingAndGlyphs">b</text>
<text x="45" y="425.8" font-size="11.8" font-weight="bold" textLength="359.5" lengthAdjust="spacingAndGlyphs">Non-European Population Training Sample Size = 15,000</text>
<rect x="45.4" y="439.7" width="107.6" height="22.8" fill="#fff" stroke="#000" stroke-width="2"/>
<text x="99.2" y="454.5" font-size="10.5" font-weight="bold" text-anchor="middle" textLength="19.6" lengthAdjust="spacingAndGlyphs">EAS</text>
<rect x="165.6" y="439.7" width="107.6" height="22.8" fill="#fff" stroke="#000" stroke-width="2"/>
<text x="219.4" y="454.5" font-size="10.5" font-weight="bold" text-anchor="middle" textLength="20.1" lengthAdjust="spacingAndGlyphs">AFR</text>
<rect x="285.8" y="439.7" width="107.6" height="22.8" fill="#fff" stroke="#000" stroke-width="2"/>
<text x="339.6" y="454.5" font-size="10.5" font-weight="bold" text-anchor="middle" textLength="19.9" lengthAdjust="spacingAndGlyphs">SAS</text>
<rect x="406" y="439.7" width="107.6" height="22.8" fill="#fff" stroke="#000" stroke-width="2"/>
<text x="459.8" y="454.5" font-size="10.5" font-weight="bold" text-anchor="middle" textLength="22.9" lengthAdjust="spacingAndGlyphs">AMR</text>
<line x1="44.4" y1="537.73" x2="154" y2="537.73" stroke="#D6D6D6" stroke-width="1.5"/>
<line x1="44.4" y1="529.14" x2="154" y2="529.14" stroke="#E3E3E3" stroke-width="1"/>
<line x1="44.4" y1="520.56" x2="154" y2="520.56" stroke="#D6D6D6" stroke-width="1.5"/>
<line x1="44.4" y1="511.98" x2="154" y2="511.98" stroke="#E3E3E3" stroke-width="1"/>
<line x1="44.4" y1="503.39" x2="154" y2="503.39" stroke="#D6D6D6" stroke-width="1.5"/>
<line x1="44.4" y1="494.81" x2="154" y2="494.81" stroke="#E3E3E3" stroke-width="1"/>
<line x1="44.4" y1="486.22" x2="154" y2="486.22" stroke="#D6D6D6" stroke-width="1.5"/>
<line x1="44.4" y1="477.63" x2="154" y2="477.63" stroke="#E3E3E3" stroke-width="1"/>
<line x1="44.4" y1="469.05" x2="154" y2="469.05" stroke="#D6D6D6" stroke-width="1.5"/>
<rect x="58.2" y="523.52" width="20.5" height="14.21" fill="#E05079" stroke="#111" stroke-width="1"/>
<rect x="78.7" y="521.64" width="20.5" height="16.09" fill="#EE8A26" stroke="#111" stroke-width="1"/>
<rect x="99.2" y="520.27" width="20.5" height="17.46" fill="#EAC356" stroke="#111" stroke-width="1"/>
<rect x="119.7" y="530.36" width="20.5" height="7.37" fill="#F2C5C9" stroke="#111" stroke-width="1"/>
<path stroke="#FF1A1A" stroke-width="1.3" stroke-linecap="round" fill="none" d="M105.25 508.57L105.25 515.17M102.21 510.46L108.29 513.29M102.21 513.29L108.29 510.46M104.5 511.87a0.75 0.75 0 1 0 1.5 0a0.75 0.75 0 1 0 -1.5 0"/>
<path stroke="#FF1A1A" stroke-width="1.3" stroke-linecap="round" fill="none" d="M113.65 508.57L113.65 515.17M110.61 510.46L116.69 513.29M110.61 513.29L116.69 510.46M112.9 511.87a0.75 0.75 0 1 0 1.5 0a0.75 0.75 0 1 0 -1.5 0"/>
<path stroke="#FF1A1A" stroke-width="1.3" stroke-linecap="round" fill="none" d="M88.95 509.94L88.95 516.54M85.91 511.82L91.99 514.65M85.91 514.65L91.99 511.82M88.2 513.24a0.75 0.75 0 1 0 1.5 0a0.75 0.75 0 1 0 -1.5 0"/>
<line x1="164.6" y1="537.73" x2="274.2" y2="537.73" stroke="#D6D6D6" stroke-width="1.5"/>
<line x1="164.6" y1="529.14" x2="274.2" y2="529.14" stroke="#E3E3E3" stroke-width="1"/>
<line x1="164.6" y1="520.56" x2="274.2" y2="520.56" stroke="#D6D6D6" stroke-width="1.5"/>
<line x1="164.6" y1="511.98" x2="274.2" y2="511.98" stroke="#E3E3E3" stroke-width="1"/>
<line x1="164.6" y1="503.39" x2="274.2" y2="503.39" stroke="#D6D6D6" stroke-width="1.5"/>
<line x1="164.6" y1="494.81" x2="274.2" y2="494.81" stroke="#E3E3E3" stroke-width="1"/>
<line x1="164.6" y1="486.22" x2="274.2" y2="486.22" stroke="#D6D6D6" stroke-width="1.5"/>
<line x1="164.6" y1="477.63" x2="274.2" y2="477.63" stroke="#E3E3E3" stroke-width="1"/>
<line x1="164.6" y1="469.05" x2="274.2" y2="469.05" stroke="#D6D6D6" stroke-width="1.5"/>
<rect x="178.4" y="529.16" width="20.5" height="8.57" fill="#E05079" stroke="#111" stroke-width="1"/>
<rect x="198.9" y="526.77" width="20.5" height="10.96" fill="#EE8A26" stroke="#111" stroke-width="1"/>
<rect x="219.4" y="526.43" width="20.5" height="11.3" fill="#EAC356" stroke="#111" stroke-width="1"/>
<rect x="239.9" y="533.78" width="20.5" height="3.95" fill="#F2C5C9" stroke="#111" stroke-width="1"/>
<path stroke="#FF1A1A" stroke-width="1.3" stroke-linecap="round" fill="none" d="M225.45 514.73L225.45 521.33M222.41 516.61L228.49 519.44M222.41 519.44L228.49 516.61M224.7 518.03a0.75 0.75 0 1 0 1.5 0a0.75 0.75 0 1 0 -1.5 0"/>
<path stroke="#FF1A1A" stroke-width="1.3" stroke-linecap="round" fill="none" d="M233.85 514.73L233.85 521.33M230.81 516.61L236.89 519.44M230.81 519.44L236.89 516.61M233.1 518.03a0.75 0.75 0 1 0 1.5 0a0.75 0.75 0 1 0 -1.5 0"/>
<path stroke="#FF1A1A" stroke-width="1.3" stroke-linecap="round" fill="none" d="M209.15 515.07L209.15 521.67M206.11 516.95L212.19 519.78M206.11 519.78L212.19 516.95M208.4 518.37a0.75 0.75 0 1 0 1.5 0a0.75 0.75 0 1 0 -1.5 0"/>
<line x1="284.8" y1="537.73" x2="394.4" y2="537.73" stroke="#D6D6D6" stroke-width="1.5"/>
<line x1="284.8" y1="529.14" x2="394.4" y2="529.14" stroke="#E3E3E3" stroke-width="1"/>
<line x1="284.8" y1="520.56" x2="394.4" y2="520.56" stroke="#D6D6D6" stroke-width="1.5"/>
<line x1="284.8" y1="511.98" x2="394.4" y2="511.98" stroke="#E3E3E3" stroke-width="1"/>
<line x1="284.8" y1="503.39" x2="394.4" y2="503.39" stroke="#D6D6D6" stroke-width="1.5"/>
<line x1="284.8" y1="494.81" x2="394.4" y2="494.81" stroke="#E3E3E3" stroke-width="1"/>
<line x1="284.8" y1="486.22" x2="394.4" y2="486.22" stroke="#D6D6D6" stroke-width="1.5"/>
<line x1="284.8" y1="477.63" x2="394.4" y2="477.63" stroke="#E3E3E3" stroke-width="1"/>
<line x1="284.8" y1="469.05" x2="394.4" y2="469.05" stroke="#D6D6D6" stroke-width="1.5"/>
<rect x="298.6" y="522.32" width="20.5" height="15.41" fill="#E05079" stroke="#111" stroke-width="1"/>
<rect x="319.1" y="520.27" width="20.5" height="17.46" fill="#EE8A26" stroke="#111" stroke-width="1"/>
<rect x="360.1" y="530.36" width="20.5" height="7.37" fill="#F2C5C9" stroke="#111" stroke-width="1"/>
<path stroke="#FF1A1A" stroke-width="1.3" stroke-linecap="round" fill="none" d="M325.15 508.57L325.15 515.17M322.11 510.46L328.19 513.29M322.11 513.29L328.19 510.46M324.4 511.87a0.75 0.75 0 1 0 1.5 0a0.75 0.75 0 1 0 -1.5 0"/>
<path stroke="#FF1A1A" stroke-width="1.3" stroke-linecap="round" fill="none" d="M333.55 508.57L333.55 515.17M330.51 510.46L336.59 513.29M330.51 513.29L336.59 510.46M332.8 511.87a0.75 0.75 0 1 0 1.5 0a0.75 0.75 0 1 0 -1.5 0"/>
<path stroke="#FF1A1A" stroke-width="1.3" stroke-linecap="round" fill="none" d="M308.85 510.62L308.85 517.22M305.81 512.51L311.89 515.34M305.81 515.34L311.89 512.51M308.1 513.92a0.75 0.75 0 1 0 1.5 0a0.75 0.75 0 1 0 -1.5 0"/>
<line x1="405" y1="537.73" x2="514.6" y2="537.73" stroke="#D6D6D6" stroke-width="1.5"/>
<line x1="405" y1="529.14" x2="514.6" y2="529.14" stroke="#E3E3E3" stroke-width="1"/>
<line x1="405" y1="520.56" x2="514.6" y2="520.56" stroke="#D6D6D6" stroke-width="1.5"/>
<line x1="405" y1="511.98" x2="514.6" y2="511.98" stroke="#E3E3E3" stroke-width="1"/>
<line x1="405" y1="503.39" x2="514.6" y2="503.39" stroke="#D6D6D6" stroke-width="1.5"/>
<line x1="405" y1="494.81" x2="514.6" y2="494.81" stroke="#E3E3E3" stroke-width="1"/>
<line x1="405" y1="486.22" x2="514.6" y2="486.22" stroke="#D6D6D6" stroke-width="1.5"/>
<line x1="405" y1="477.63" x2="514.6" y2="477.63" stroke="#E3E3E3" stroke-width="1"/>
<line x1="405" y1="469.05" x2="514.6" y2="469.05" stroke="#D6D6D6" stroke-width="1.5"/>
<rect x="418.8" y="521.98" width="20.5" height="15.75" fill="#E05079" stroke="#111" stroke-width="1"/>
<rect x="439.3" y="521.47" width="20.5" height="16.26" fill="#EE8A26" stroke="#111" stroke-width="1"/>
<rect x="480.3" y="529.68" width="20.5" height="8.05" fill="#F2C5C9" stroke="#111" stroke-width="1"/>
<path stroke="#FF1A1A" stroke-width="1.3" stroke-linecap="round" fill="none" d="M445.35 509.77L445.35 516.37M442.31 511.65L448.39 514.48M442.31 514.48L448.39 511.65M444.6 513.07a0.75 0.75 0 1 0 1.5 0a0.75 0.75 0 1 0 -1.5 0"/>
<path stroke="#FF1A1A" stroke-width="1.3" stroke-linecap="round" fill="none" d="M453.75 509.77L453.75 516.37M450.71 511.65L456.79 514.48M450.71 514.48L456.79 511.65M453 513.07a0.75 0.75 0 1 0 1.5 0a0.75 0.75 0 1 0 -1.5 0"/>
<path stroke="#FF1A1A" stroke-width="1.3" stroke-linecap="round" fill="none" d="M429.05 510.28L429.05 516.88M426.01 512.17L432.09 515M426.01 515L432.09 512.17M428.3 513.58a0.75 0.75 0 1 0 1.5 0a0.75 0.75 0 1 0 -1.5 0"/>
<line x1="44.25" y1="463.8" x2="44.25" y2="540.9" stroke="#000" stroke-width="1.8"/>
<line x1="39.1" y1="537.73" x2="44" y2="537.73" stroke="#333" stroke-width="1.6"/>
<text x="35" y="541.33" font-size="10.6" fill="#4D4D4D" text-anchor="end" textLength="14.6" lengthAdjust="spacingAndGlyphs">0.0</text>
<line x1="39.1" y1="520.56" x2="44" y2="520.56" stroke="#333" stroke-width="1.6"/>
<text x="35" y="524.16" font-size="10.6" fill="#4D4D4D" text-anchor="end" textLength="14.6" lengthAdjust="spacingAndGlyphs">0.1</text>
<line x1="39.1" y1="503.39" x2="44" y2="503.39" stroke="#333" stroke-width="1.6"/>
<text x="35" y="506.99" font-size="10.6" fill="#4D4D4D" text-anchor="end" textLength="14.6" lengthAdjust="spacingAndGlyphs">0.2</text>
<line x1="39.1" y1="486.22" x2="44" y2="486.22" stroke="#333" stroke-width="1.6"/>
<text x="35" y="489.82" font-size="10.6" fill="#4D4D4D" text-anchor="end" textLength="14.6" lengthAdjust="spacingAndGlyphs">0.3</text>
<line x1="39.1" y1="469.05" x2="44" y2="469.05" stroke="#333" stroke-width="1.6"/>
<text x="35" y="472.65" font-size="10.6" fill="#4D4D4D" text-anchor="end" textLength="14.6" lengthAdjust="spacingAndGlyphs">0.4</text>
<rect x="516" y="464.8" width="23" height="75.1" fill="#fff" stroke="#000" stroke-width="2"/>
<line x1="44.4" y1="625.42" x2="154" y2="625.42" stroke="#D6D6D6" stroke-width="1.5"/>
<line x1="44.4" y1="616.84" x2="154" y2="616.84" stroke="#E3E3E3" stroke-width="1"/>
<line x1="44.4" y1="608.25" x2="154" y2="608.25" stroke="#D6D6D6" stroke-width="1.5"/>
<line x1="44.4" y1="599.67" x2="154" y2="599.67" stroke="#E3E3E3" stroke-width="1"/>
<line x1="44.4" y1="591.08" x2="154" y2="591.08" stroke="#D6D6D6" stroke-width="1.5"/>
<line x1="44.4" y1="582.5" x2="154" y2="582.5" stroke="#E3E3E3" stroke-width="1"/>
<line x1="44.4" y1="573.91" x2="154" y2="573.91" stroke="#D6D6D6" stroke-width="1.5"/>
<line x1="44.4" y1="565.33" x2="154" y2="565.33" stroke="#E3E3E3" stroke-width="1"/>
<line x1="44.4" y1="556.74" x2="154" y2="556.74" stroke="#D6D6D6" stroke-width="1.5"/>
<rect x="58.2" y="601.33" width="20.5" height="24.09" fill="#E05079" stroke="#111" stroke-width="1"/>
<rect x="78.7" y="615.7" width="20.5" height="9.73" fill="#EE8A26" stroke="#111" stroke-width="1"/>
<rect x="99.2" y="600.48" width="20.5" height="24.94" fill="#EAC356" stroke="#111" stroke-width="1"/>
<rect x="119.7" y="610.57" width="20.5" height="14.86" fill="#F2C5C9" stroke="#111" stroke-width="1"/>
<path stroke="#FF1A1A" stroke-width="1.3" stroke-linecap="round" fill="none" d="M105.25 588.78L105.25 595.38M102.21 590.66L108.29 593.49M102.21 593.49L108.29 590.66M104.5 592.08a0.75 0.75 0 1 0 1.5 0a0.75 0.75 0 1 0 -1.5 0"/>
<path stroke="#FF1A1A" stroke-width="1.3" stroke-linecap="round" fill="none" d="M113.65 588.78L113.65 595.38M110.61 590.66L116.69 593.49M110.61 593.49L116.69 590.66M112.9 592.08a0.75 0.75 0 1 0 1.5 0a0.75 0.75 0 1 0 -1.5 0"/>
<path stroke="#FF1A1A" stroke-width="1.3" stroke-linecap="round" fill="none" d="M68.45 589.63L68.45 596.23M65.41 591.52L71.49 594.35M65.41 594.35L71.49 591.52M67.7 592.93a0.75 0.75 0 1 0 1.5 0a0.75 0.75 0 1 0 -1.5 0"/>
<line x1="164.6" y1="625.42" x2="274.2" y2="625.42" stroke="#D6D6D6" stroke-width="1.5"/>
<line x1="164.6" y1="616.84" x2="274.2" y2="616.84" stroke="#E3E3E3" stroke-width="1"/>
<line x1="164.6" y1="608.25" x2="274.2" y2="608.25" stroke="#D6D6D6" stroke-width="1.5"/>
<line x1="164.6" y1="599.67" x2="274.2" y2="599.67" stroke="#E3E3E3" stroke-width="1"/>
<line x1="164.6" y1="591.08" x2="274.2" y2="591.08" stroke="#D6D6D6" stroke-width="1.5"/>
<line x1="164.6" y1="582.5" x2="274.2" y2="582.5" stroke="#E3E3E3" stroke-width="1"/>
<line x1="164.6" y1="573.91" x2="274.2" y2="573.91" stroke="#D6D6D6" stroke-width="1.5"/>
<line x1="164.6" y1="565.33" x2="274.2" y2="565.33" stroke="#E3E3E3" stroke-width="1"/>
<line x1="164.6" y1="556.74" x2="274.2" y2="556.74" stroke="#D6D6D6" stroke-width="1.5"/>
<rect x="178.4" y="606.29" width="20.5" height="19.13" fill="#E05079" stroke="#111" stroke-width="1"/>
<rect x="198.9" y="618.77" width="20.5" height="6.65" fill="#EE8A26" stroke="#111" stroke-width="1"/>
<rect x="219.4" y="605.26" width="20.5" height="20.16" fill="#EAC356" stroke="#111" stroke-width="1"/>
<rect x="239.9" y="614.16" width="20.5" height="11.26" fill="#F2C5C9" stroke="#111" stroke-width="1"/>
<path stroke="#FF1A1A" stroke-width="1.3" stroke-linecap="round" fill="none" d="M225.45 593.56L225.45 600.16M222.41 595.45L228.49 598.28M222.41 598.28L228.49 595.45M224.7 596.86a0.75 0.75 0 1 0 1.5 0a0.75 0.75 0 1 0 -1.5 0"/>
<path stroke="#FF1A1A" stroke-width="1.3" stroke-linecap="round" fill="none" d="M233.85 593.56L233.85 600.16M230.81 595.45L236.89 598.28M230.81 598.28L236.89 595.45M233.1 596.86a0.75 0.75 0 1 0 1.5 0a0.75 0.75 0 1 0 -1.5 0"/>
<path stroke="#FF1A1A" stroke-width="1.3" stroke-linecap="round" fill="none" d="M188.65 594.59L188.65 601.19M185.61 596.47L191.69 599.31M185.61 599.31L191.69 596.47M187.9 597.89a0.75 0.75 0 1 0 1.5 0a0.75 0.75 0 1 0 -1.5 0"/>
<line x1="284.8" y1="625.42" x2="394.4" y2="625.42" stroke="#D6D6D6" stroke-width="1.5"/>
<line x1="284.8" y1="616.84" x2="394.4" y2="616.84" stroke="#E3E3E3" stroke-width="1"/>
<line x1="284.8" y1="608.25" x2="394.4" y2="608.25" stroke="#D6D6D6" stroke-width="1.5"/>
<line x1="284.8" y1="599.67" x2="394.4" y2="599.67" stroke="#E3E3E3" stroke-width="1"/>
<line x1="284.8" y1="591.08" x2="394.4" y2="591.08" stroke="#D6D6D6" stroke-width="1.5"/>
<line x1="284.8" y1="582.5" x2="394.4" y2="582.5" stroke="#E3E3E3" stroke-width="1"/>
<line x1="284.8" y1="573.91" x2="394.4" y2="573.91" stroke="#D6D6D6" stroke-width="1.5"/>
<line x1="284.8" y1="565.33" x2="394.4" y2="565.33" stroke="#E3E3E3" stroke-width="1"/>
<line x1="284.8" y1="556.74" x2="394.4" y2="556.74" stroke="#D6D6D6" stroke-width="1.5"/>
<rect x="298.6" y="600.13" width="20.5" height="25.29" fill="#E05079" stroke="#111" stroke-width="1"/>
<rect x="319.1" y="614.16" width="20.5" height="11.26" fill="#EE8A26" stroke="#111" stroke-width="1"/>
<rect x="360.1" y="610.39" width="20.5" height="15.03" fill="#F2C5C9" stroke="#111" stroke-width="1"/>
<path stroke="#FF1A1A" stroke-width="1.3" stroke-linecap="round" fill="none" d="M304.65 588.43L304.65 595.03M301.61 590.32L307.69 593.15M301.61 593.15L307.69 590.32M303.9 591.73a0.75 0.75 0 1 0 1.5 0a0.75 0.75 0 1 0 -1.5 0"/>
<path stroke="#FF1A1A" stroke-width="1.3" stroke-linecap="round" fill="none" d="M313.05 588.43L313.05 595.03M310.01 590.32L316.09 593.15M310.01 593.15L316.09 590.32M312.3 591.73a0.75 0.75 0 1 0 1.5 0a0.75 0.75 0 1 0 -1.5 0"/>
<path stroke="#FF1A1A" stroke-width="1.3" stroke-linecap="round" fill="none" d="M370.35 598.69L370.35 605.29M367.31 600.58L373.39 603.41M367.31 603.41L373.39 600.58M369.6 601.99a0.75 0.75 0 1 0 1.5 0a0.75 0.75 0 1 0 -1.5 0"/>
<line x1="405" y1="625.42" x2="514.6" y2="625.42" stroke="#D6D6D6" stroke-width="1.5"/>
<line x1="405" y1="616.84" x2="514.6" y2="616.84" stroke="#E3E3E3" stroke-width="1"/>
<line x1="405" y1="608.25" x2="514.6" y2="608.25" stroke="#D6D6D6" stroke-width="1.5"/>
<line x1="405" y1="599.67" x2="514.6" y2="599.67" stroke="#E3E3E3" stroke-width="1"/>
<line x1="405" y1="591.08" x2="514.6" y2="591.08" stroke="#D6D6D6" stroke-width="1.5"/>
<line x1="405" y1="582.5" x2="514.6" y2="582.5" stroke="#E3E3E3" stroke-width="1"/>
<line x1="405" y1="573.91" x2="514.6" y2="573.91" stroke="#D6D6D6" stroke-width="1.5"/>
<line x1="405" y1="565.33" x2="514.6" y2="565.33" stroke="#E3E3E3" stroke-width="1"/>
<line x1="405" y1="556.74" x2="514.6" y2="556.74" stroke="#D6D6D6" stroke-width="1.5"/>
<rect x="418.8" y="599.45" width="20.5" height="25.97" fill="#E05079" stroke="#111" stroke-width="1"/>
<rect x="439.3" y="615.52" width="20.5" height="9.9" fill="#EE8A26" stroke="#111" stroke-width="1"/>
<rect x="480.3" y="609.54" width="20.5" height="15.88" fill="#F2C5C9" stroke="#111" stroke-width="1"/>
<path stroke="#FF1A1A" stroke-width="1.3" stroke-linecap="round" fill="none" d="M424.85 587.75L424.85 594.35M421.81 589.63L427.89 592.47M421.81 592.47L427.89 589.63M424.1 591.05a0.75 0.75 0 1 0 1.5 0a0.75 0.75 0 1 0 -1.5 0"/>
<path stroke="#FF1A1A" stroke-width="1.3" stroke-linecap="round" fill="none" d="M433.25 587.75L433.25 594.35M430.21 589.63L436.29 592.47M430.21 592.47L436.29 589.63M432.5 591.05a0.75 0.75 0 1 0 1.5 0a0.75 0.75 0 1 0 -1.5 0"/>
<path stroke="#FF1A1A" stroke-width="1.3" stroke-linecap="round" fill="none" d="M490.55 597.84L490.55 604.44M487.51 599.72L493.59 602.55M487.51 602.55L493.59 599.72M489.8 601.14a0.75 0.75 0 1 0 1.5 0a0.75 0.75 0 1 0 -1.5 0"/>
<line x1="44.25" y1="551.49" x2="44.25" y2="628.59" stroke="#000" stroke-width="1.8"/>
<line x1="39.1" y1="625.42" x2="44" y2="625.42" stroke="#333" stroke-width="1.6"/>
<text x="35" y="629.02" font-size="10.6" fill="#4D4D4D" text-anchor="end" textLength="14.6" lengthAdjust="spacingAndGlyphs">0.0</text>
<line x1="39.1" y1="608.25" x2="44" y2="608.25" stroke="#333" stroke-width="1.6"/>
<text x="35" y="611.85" font-size="10.6" fill="#4D4D4D" text-anchor="end" textLength="14.6" lengthAdjust="spacingAndGlyphs">0.1</text>
<line x1="39.1" y1="591.08" x2="44" y2="591.08" stroke="#333" stroke-width="1.6"/>
<text x="35" y="594.68" font-size="10.6" fill="#4D4D4D" text-anchor="end" textLength="14.6" lengthAdjust="spacingAndGlyphs">0.2</text>
<line x1="39.1" y1="573.91" x2="44" y2="573.91" stroke="#333" stroke-width="1.6"/>
<text x="35" y="577.51" font-size="10.6" fill="#4D4D4D" text-anchor="end" textLength="14.6" lengthAdjust="spacingAndGlyphs">0.3</text>
<line x1="39.1" y1="556.74" x2="44" y2="556.74" stroke="#333" stroke-width="1.6"/>
<text x="35" y="560.34" font-size="10.6" fill="#4D4D4D" text-anchor="end" textLength="14.6" lengthAdjust="spacingAndGlyphs">0.4</text>
<rect x="516" y="552.49" width="23" height="75.1" fill="#fff" stroke="#000" stroke-width="2"/>
<line x1="44.4" y1="713.11" x2="154" y2="713.11" stroke="#D6D6D6" stroke-width="1.5"/>
<line x1="44.4" y1="704.52" x2="154" y2="704.52" stroke="#E3E3E3" stroke-width="1"/>
<line x1="44.4" y1="695.94" x2="154" y2="695.94" stroke="#D6D6D6" stroke-width="1.5"/>
<line x1="44.4" y1="687.36" x2="154" y2="687.36" stroke="#E3E3E3" stroke-width="1"/>
<line x1="44.4" y1="678.77" x2="154" y2="678.77" stroke="#D6D6D6" stroke-width="1.5"/>
<line x1="44.4" y1="670.19" x2="154" y2="670.19" stroke="#E3E3E3" stroke-width="1"/>
<line x1="44.4" y1="661.6" x2="154" y2="661.6" stroke="#D6D6D6" stroke-width="1.5"/>
<line x1="44.4" y1="653.01" x2="154" y2="653.01" stroke="#E3E3E3" stroke-width="1"/>
<line x1="44.4" y1="644.43" x2="154" y2="644.43" stroke="#D6D6D6" stroke-width="1.5"/>
<rect x="58.2" y="670.25" width="20.5" height="42.86" fill="#E05079" stroke="#111" stroke-width="1"/>
<rect x="78.7" y="708.9" width="20.5" height="4.21" fill="#EE8A26" stroke="#111" stroke-width="1"/>
<rect x="99.2" y="670.25" width="20.5" height="42.86" fill="#EAC356" stroke="#111" stroke-width="1"/>
<rect x="119.7" y="675.21" width="20.5" height="37.9" fill="#F2C5C9" stroke="#111" stroke-width="1"/>
<path stroke="#FF1A1A" stroke-width="1.3" stroke-linecap="round" fill="none" d="M64.25 658.55L64.25 665.15M61.21 660.43L67.29 663.27M61.21 663.27L67.29 660.43M63.5 661.85a0.75 0.75 0 1 0 1.5 0a0.75 0.75 0 1 0 -1.5 0"/>
<path stroke="#FF1A1A" stroke-width="1.3" stroke-linecap="round" fill="none" d="M72.65 658.55L72.65 665.15M69.61 660.43L75.69 663.27M69.61 663.27L75.69 660.43M71.9 661.85a0.75 0.75 0 1 0 1.5 0a0.75 0.75 0 1 0 -1.5 0"/>
<path stroke="#FF1A1A" stroke-width="1.3" stroke-linecap="round" fill="none" d="M109.45 658.55L109.45 665.15M106.41 660.43L112.49 663.27M106.41 663.27L112.49 660.43M108.7 661.85a0.75 0.75 0 1 0 1.5 0a0.75 0.75 0 1 0 -1.5 0"/>
<line x1="164.6" y1="713.11" x2="274.2" y2="713.11" stroke="#D6D6D6" stroke-width="1.5"/>
<line x1="164.6" y1="704.52" x2="274.2" y2="704.52" stroke="#E3E3E3" stroke-width="1"/>
<line x1="164.6" y1="695.94" x2="274.2" y2="695.94" stroke="#D6D6D6" stroke-width="1.5"/>
<line x1="164.6" y1="687.36" x2="274.2" y2="687.36" stroke="#E3E3E3" stroke-width="1"/>
<line x1="164.6" y1="678.77" x2="274.2" y2="678.77" stroke="#D6D6D6" stroke-width="1.5"/>
<line x1="164.6" y1="670.19" x2="274.2" y2="670.19" stroke="#E3E3E3" stroke-width="1"/>
<line x1="164.6" y1="661.6" x2="274.2" y2="661.6" stroke="#D6D6D6" stroke-width="1.5"/>
<line x1="164.6" y1="653.01" x2="274.2" y2="653.01" stroke="#E3E3E3" stroke-width="1"/>
<line x1="164.6" y1="644.43" x2="274.2" y2="644.43" stroke="#D6D6D6" stroke-width="1.5"/>
<rect x="178.4" y="675.21" width="20.5" height="37.9" fill="#E05079" stroke="#111" stroke-width="1"/>
<rect x="198.9" y="709.58" width="20.5" height="3.53" fill="#EE8A26" stroke="#111" stroke-width="1"/>
<rect x="219.4" y="674.35" width="20.5" height="38.76" fill="#EAC356" stroke="#111" stroke-width="1"/>
<rect x="239.9" y="679.31" width="20.5" height="33.8" fill="#F2C5C9" stroke="#111" stroke-width="1"/>
<path stroke="#FF1A1A" stroke-width="1.3" stroke-linecap="round" fill="none" d="M225.45 662.65L225.45 669.25M222.41 664.54L228.49 667.37M222.41 667.37L228.49 664.54M224.7 665.95a0.75 0.75 0 1 0 1.5 0a0.75 0.75 0 1 0 -1.5 0"/>
<path stroke="#FF1A1A" stroke-width="1.3" stroke-linecap="round" fill="none" d="M233.85 662.65L233.85 669.25M230.81 664.54L236.89 667.37M230.81 667.37L236.89 664.54M233.1 665.95a0.75 0.75 0 1 0 1.5 0a0.75 0.75 0 1 0 -1.5 0"/>
<path stroke="#FF1A1A" stroke-width="1.3" stroke-linecap="round" fill="none" d="M188.65 663.51L188.65 670.11M185.61 665.39L191.69 668.22M185.61 668.22L191.69 665.39M187.9 666.81a0.75 0.75 0 1 0 1.5 0a0.75 0.75 0 1 0 -1.5 0"/>
<line x1="284.8" y1="713.11" x2="394.4" y2="713.11" stroke="#D6D6D6" stroke-width="1.5"/>
<line x1="284.8" y1="704.52" x2="394.4" y2="704.52" stroke="#E3E3E3" stroke-width="1"/>
<line x1="284.8" y1="695.94" x2="394.4" y2="695.94" stroke="#D6D6D6" stroke-width="1.5"/>
<line x1="284.8" y1="687.36" x2="394.4" y2="687.36" stroke="#E3E3E3" stroke-width="1"/>
<line x1="284.8" y1="678.77" x2="394.4" y2="678.77" stroke="#D6D6D6" stroke-width="1.5"/>
<line x1="284.8" y1="670.19" x2="394.4" y2="670.19" stroke="#E3E3E3" stroke-width="1"/>
<line x1="284.8" y1="661.6" x2="394.4" y2="661.6" stroke="#D6D6D6" stroke-width="1.5"/>
<line x1="284.8" y1="653.01" x2="394.4" y2="653.01" stroke="#E3E3E3" stroke-width="1"/>
<line x1="284.8" y1="644.43" x2="394.4" y2="644.43" stroke="#D6D6D6" stroke-width="1.5"/>
<rect x="298.6" y="669.74" width="20.5" height="43.37" fill="#E05079" stroke="#111" stroke-width="1"/>
<rect x="319.1" y="708.21" width="20.5" height="4.9" fill="#EE8A26" stroke="#111" stroke-width="1"/>
<rect x="360.1" y="674.35" width="20.5" height="38.76" fill="#F2C5C9" stroke="#111" stroke-width="1"/>
<path stroke="#FF1A1A" stroke-width="1.3" stroke-linecap="round" fill="none" d="M304.65 658.04L304.65 664.64M301.61 659.92L307.69 662.75M301.61 662.75L307.69 659.92M303.9 661.34a0.75 0.75 0 1 0 1.5 0a0.75 0.75 0 1 0 -1.5 0"/>
<path stroke="#FF1A1A" stroke-width="1.3" stroke-linecap="round" fill="none" d="M313.05 658.04L313.05 664.64M310.01 659.92L316.09 662.75M310.01 662.75L316.09 659.92M312.3 661.34a0.75 0.75 0 1 0 1.5 0a0.75 0.75 0 1 0 -1.5 0"/>
<path stroke="#FF1A1A" stroke-width="1.3" stroke-linecap="round" fill="none" d="M370.35 662.65L370.35 669.25M367.31 664.54L373.39 667.37M367.31 667.37L373.39 664.54M369.6 665.95a0.75 0.75 0 1 0 1.5 0a0.75 0.75 0 1 0 -1.5 0"/>
<line x1="405" y1="713.11" x2="514.6" y2="713.11" stroke="#D6D6D6" stroke-width="1.5"/>
<line x1="405" y1="704.52" x2="514.6" y2="704.52" stroke="#E3E3E3" stroke-width="1"/>
<line x1="405" y1="695.94" x2="514.6" y2="695.94" stroke="#D6D6D6" stroke-width="1.5"/>
<line x1="405" y1="687.36" x2="514.6" y2="687.36" stroke="#E3E3E3" stroke-width="1"/>
<line x1="405" y1="678.77" x2="514.6" y2="678.77" stroke="#D6D6D6" stroke-width="1.5"/>
<line x1="405" y1="670.19" x2="514.6" y2="670.19" stroke="#E3E3E3" stroke-width="1"/>
<line x1="405" y1="661.6" x2="514.6" y2="661.6" stroke="#D6D6D6" stroke-width="1.5"/>
<line x1="405" y1="653.01" x2="514.6" y2="653.01" stroke="#E3E3E3" stroke-width="1"/>
<line x1="405" y1="644.43" x2="514.6" y2="644.43" stroke="#D6D6D6" stroke-width="1.5"/>
<rect x="418.8" y="670.76" width="20.5" height="42.35" fill="#E05079" stroke="#111" stroke-width="1"/>
<rect x="439.3" y="708.9" width="20.5" height="4.21" fill="#EE8A26" stroke="#111" stroke-width="1"/>
<rect x="480.3" y="675.55" width="20.5" height="37.56" fill="#F2C5C9" stroke="#111" stroke-width="1"/>
<path stroke="#FF1A1A" stroke-width="1.3" stroke-linecap="round" fill="none" d="M424.85 659.06L424.85 665.66M421.81 660.95L427.89 663.78M421.81 663.78L427.89 660.95M424.1 662.36a0.75 0.75 0 1 0 1.5 0a0.75 0.75 0 1 0 -1.5 0"/>
<path stroke="#FF1A1A" stroke-width="1.3" stroke-linecap="round" fill="none" d="M433.25 659.06L433.25 665.66M430.21 660.95L436.29 663.78M430.21 663.78L436.29 660.95M432.5 662.36a0.75 0.75 0 1 0 1.5 0a0.75 0.75 0 1 0 -1.5 0"/>
<path stroke="#FF1A1A" stroke-width="1.3" stroke-linecap="round" fill="none" d="M490.55 663.85L490.55 670.45M487.51 665.74L493.59 668.57M487.51 668.57L493.59 665.74M489.8 667.15a0.75 0.75 0 1 0 1.5 0a0.75 0.75 0 1 0 -1.5 0"/>
<line x1="44.25" y1="639.18" x2="44.25" y2="716.28" stroke="#000" stroke-width="1.8"/>
<line x1="39.1" y1="713.11" x2="44" y2="713.11" stroke="#333" stroke-width="1.6"/>
<text x="35" y="716.71" font-size="10.6" fill="#4D4D4D" text-anchor="end" textLength="14.6" lengthAdjust="spacingAndGlyphs">0.0</text>
<line x1="39.1" y1="695.94" x2="44" y2="695.94" stroke="#333" stroke-width="1.6"/>
<text x="35" y="699.54" font-size="10.6" fill="#4D4D4D" text-anchor="end" textLength="14.6" lengthAdjust="spacingAndGlyphs">0.1</text>
<line x1="39.1" y1="678.77" x2="44" y2="678.77" stroke="#333" stroke-width="1.6"/>
<text x="35" y="682.37" font-size="10.6" fill="#4D4D4D" text-anchor="end" textLength="14.6" lengthAdjust="spacingAndGlyphs">0.2</text>
<line x1="39.1" y1="661.6" x2="44" y2="661.6" stroke="#333" stroke-width="1.6"/>
<text x="35" y="665.2" font-size="10.6" fill="#4D4D4D" text-anchor="end" textLength="14.6" lengthAdjust="spacingAndGlyphs">0.3</text>
<line x1="39.1" y1="644.43" x2="44" y2="644.43" stroke="#333" stroke-width="1.6"/>
<text x="35" y="648.03" font-size="10.6" fill="#4D4D4D" text-anchor="end" textLength="14.6" lengthAdjust="spacingAndGlyphs">0.4</text>
<rect x="516" y="640.18" width="23" height="75.1" fill="#fff" stroke="#000" stroke-width="2"/>
<line x1="44.4" y1="800.8" x2="154" y2="800.8" stroke="#D6D6D6" stroke-width="1.5"/>
<line x1="44.4" y1="792.21" x2="154" y2="792.21" stroke="#E3E3E3" stroke-width="1"/>
<line x1="44.4" y1="783.63" x2="154" y2="783.63" stroke="#D6D6D6" stroke-width="1.5"/>
<line x1="44.4" y1="775.04" x2="154" y2="775.04" stroke="#E3E3E3" stroke-width="1"/>
<line x1="44.4" y1="766.46" x2="154" y2="766.46" stroke="#D6D6D6" stroke-width="1.5"/>
<line x1="44.4" y1="757.88" x2="154" y2="757.88" stroke="#E3E3E3" stroke-width="1"/>
<line x1="44.4" y1="749.29" x2="154" y2="749.29" stroke="#D6D6D6" stroke-width="1.5"/>
<line x1="44.4" y1="740.7" x2="154" y2="740.7" stroke="#E3E3E3" stroke-width="1"/>
<line x1="44.4" y1="732.12" x2="154" y2="732.12" stroke="#D6D6D6" stroke-width="1.5"/>
<rect x="58.2" y="754.05" width="20.5" height="46.75" fill="#E05079" stroke="#111" stroke-width="1"/>
<rect x="78.7" y="786.71" width="20.5" height="14.09" fill="#EE8A26" stroke="#111" stroke-width="1"/>
<rect x="99.2" y="753.36" width="20.5" height="47.44" fill="#EAC356" stroke="#111" stroke-width="1"/>
<rect x="119.7" y="757.47" width="20.5" height="43.33" fill="#F2C5C9" stroke="#111" stroke-width="1"/>
<path stroke="#FF1A1A" stroke-width="1.3" stroke-linecap="round" fill="none" d="M105.25 741.66L105.25 748.26M102.21 743.55L108.29 746.38M102.21 746.38L108.29 743.55M104.5 744.96a0.75 0.75 0 1 0 1.5 0a0.75 0.75 0 1 0 -1.5 0"/>
<path stroke="#FF1A1A" stroke-width="1.3" stroke-linecap="round" fill="none" d="M113.65 741.66L113.65 748.26M110.61 743.55L116.69 746.38M110.61 746.38L116.69 743.55M112.9 744.96a0.75 0.75 0 1 0 1.5 0a0.75 0.75 0 1 0 -1.5 0"/>
<path stroke="#FF1A1A" stroke-width="1.3" stroke-linecap="round" fill="none" d="M68.45 742.35L68.45 748.95M65.41 744.23L71.49 747.06M65.41 747.06L71.49 744.23M67.7 745.65a0.75 0.75 0 1 0 1.5 0a0.75 0.75 0 1 0 -1.5 0"/>
<line x1="164.6" y1="800.8" x2="274.2" y2="800.8" stroke="#D6D6D6" stroke-width="1.5"/>
<line x1="164.6" y1="792.21" x2="274.2" y2="792.21" stroke="#E3E3E3" stroke-width="1"/>
<line x1="164.6" y1="783.63" x2="274.2" y2="783.63" stroke="#D6D6D6" stroke-width="1.5"/>
<line x1="164.6" y1="775.04" x2="274.2" y2="775.04" stroke="#E3E3E3" stroke-width="1"/>
<line x1="164.6" y1="766.46" x2="274.2" y2="766.46" stroke="#D6D6D6" stroke-width="1.5"/>
<line x1="164.6" y1="757.88" x2="274.2" y2="757.88" stroke="#E3E3E3" stroke-width="1"/>
<line x1="164.6" y1="749.29" x2="274.2" y2="749.29" stroke="#D6D6D6" stroke-width="1.5"/>
<line x1="164.6" y1="740.7" x2="274.2" y2="740.7" stroke="#E3E3E3" stroke-width="1"/>
<line x1="164.6" y1="732.12" x2="274.2" y2="732.12" stroke="#D6D6D6" stroke-width="1.5"/>
<rect x="178.4" y="759.18" width="20.5" height="41.62" fill="#E05079" stroke="#111" stroke-width="1"/>
<rect x="198.9" y="788.08" width="20.5" height="12.72" fill="#EE8A26" stroke="#111" stroke-width="1"/>
<rect x="219.4" y="758.66" width="20.5" height="42.14" fill="#EAC356" stroke="#111" stroke-width="1"/>
<rect x="239.9" y="762.25" width="20.5" height="38.55" fill="#F2C5C9" stroke="#111" stroke-width="1"/>
<path stroke="#FF1A1A" stroke-width="1.3" stroke-linecap="round" fill="none" d="M225.45 746.96L225.45 753.56M222.41 748.85L228.49 751.68M222.41 751.68L228.49 748.85M224.7 750.26a0.75 0.75 0 1 0 1.5 0a0.75 0.75 0 1 0 -1.5 0"/>
<path stroke="#FF1A1A" stroke-width="1.3" stroke-linecap="round" fill="none" d="M233.85 746.96L233.85 753.56M230.81 748.85L236.89 751.68M230.81 751.68L236.89 748.85M233.1 750.26a0.75 0.75 0 1 0 1.5 0a0.75 0.75 0 1 0 -1.5 0"/>
<path stroke="#FF1A1A" stroke-width="1.3" stroke-linecap="round" fill="none" d="M188.65 747.48L188.65 754.08M185.61 749.36L191.69 752.19M185.61 752.19L191.69 749.36M187.9 750.78a0.75 0.75 0 1 0 1.5 0a0.75 0.75 0 1 0 -1.5 0"/>
<line x1="284.8" y1="800.8" x2="394.4" y2="800.8" stroke="#D6D6D6" stroke-width="1.5"/>
<line x1="284.8" y1="792.21" x2="394.4" y2="792.21" stroke="#E3E3E3" stroke-width="1"/>
<line x1="284.8" y1="783.63" x2="394.4" y2="783.63" stroke="#D6D6D6" stroke-width="1.5"/>
<line x1="284.8" y1="775.04" x2="394.4" y2="775.04" stroke="#E3E3E3" stroke-width="1"/>
<line x1="284.8" y1="766.46" x2="394.4" y2="766.46" stroke="#D6D6D6" stroke-width="1.5"/>
<line x1="284.8" y1="757.88" x2="394.4" y2="757.88" stroke="#E3E3E3" stroke-width="1"/>
<line x1="284.8" y1="749.29" x2="394.4" y2="749.29" stroke="#D6D6D6" stroke-width="1.5"/>
<line x1="284.8" y1="740.7" x2="394.4" y2="740.7" stroke="#E3E3E3" stroke-width="1"/>
<line x1="284.8" y1="732.12" x2="394.4" y2="732.12" stroke="#D6D6D6" stroke-width="1.5"/>
<rect x="298.6" y="754.05" width="20.5" height="46.75" fill="#E05079" stroke="#111" stroke-width="1"/>
<rect x="319.1" y="786.88" width="20.5" height="13.92" fill="#EE8A26" stroke="#111" stroke-width="1"/>
<rect x="360.1" y="757.47" width="20.5" height="43.33" fill="#F2C5C9" stroke="#111" stroke-width="1"/>
<path stroke="#FF1A1A" stroke-width="1.3" stroke-linecap="round" fill="none" d="M304.65 742.35L304.65 748.95M301.61 744.23L307.69 747.06M301.61 747.06L307.69 744.23M303.9 745.65a0.75 0.75 0 1 0 1.5 0a0.75 0.75 0 1 0 -1.5 0"/>
<path stroke="#FF1A1A" stroke-width="1.3" stroke-linecap="round" fill="none" d="M313.05 742.35L313.05 748.95M310.01 744.23L316.09 747.06M310.01 747.06L316.09 744.23M312.3 745.65a0.75 0.75 0 1 0 1.5 0a0.75 0.75 0 1 0 -1.5 0"/>
<path stroke="#FF1A1A" stroke-width="1.3" stroke-linecap="round" fill="none" d="M370.35 745.77L370.35 752.37M367.31 747.65L373.39 750.48M367.31 750.48L373.39 747.65M369.6 749.07a0.75 0.75 0 1 0 1.5 0a0.75 0.75 0 1 0 -1.5 0"/>
<line x1="405" y1="800.8" x2="514.6" y2="800.8" stroke="#D6D6D6" stroke-width="1.5"/>
<line x1="405" y1="792.21" x2="514.6" y2="792.21" stroke="#E3E3E3" stroke-width="1"/>
<line x1="405" y1="783.63" x2="514.6" y2="783.63" stroke="#D6D6D6" stroke-width="1.5"/>
<line x1="405" y1="775.04" x2="514.6" y2="775.04" stroke="#E3E3E3" stroke-width="1"/>
<line x1="405" y1="766.46" x2="514.6" y2="766.46" stroke="#D6D6D6" stroke-width="1.5"/>
<line x1="405" y1="757.88" x2="514.6" y2="757.88" stroke="#E3E3E3" stroke-width="1"/>
<line x1="405" y1="749.29" x2="514.6" y2="749.29" stroke="#D6D6D6" stroke-width="1.5"/>
<line x1="405" y1="740.7" x2="514.6" y2="740.7" stroke="#E3E3E3" stroke-width="1"/>
<line x1="405" y1="732.12" x2="514.6" y2="732.12" stroke="#D6D6D6" stroke-width="1.5"/>
<rect x="418.8" y="754.05" width="20.5" height="46.75" fill="#E05079" stroke="#111" stroke-width="1"/>
<rect x="439.3" y="786.02" width="20.5" height="14.78" fill="#EE8A26" stroke="#111" stroke-width="1"/>
<rect x="480.3" y="757.64" width="20.5" height="43.16" fill="#F2C5C9" stroke="#111" stroke-width="1"/>
<path stroke="#FF1A1A" stroke-width="1.3" stroke-linecap="round" fill="none" d="M424.85 742.35L424.85 748.95M421.81 744.23L427.89 747.06M421.81 747.06L427.89 744.23M424.1 745.65a0.75 0.75 0 1 0 1.5 0a0.75 0.75 0 1 0 -1.5 0"/>
<path stroke="#FF1A1A" stroke-width="1.3" stroke-linecap="round" fill="none" d="M433.25 742.35L433.25 748.95M430.21 744.23L436.29 747.06M430.21 747.06L436.29 744.23M432.5 745.65a0.75 0.75 0 1 0 1.5 0a0.75 0.75 0 1 0 -1.5 0"/>
<path stroke="#FF1A1A" stroke-width="1.3" stroke-linecap="round" fill="none" d="M490.55 745.94L490.55 752.54M487.51 747.82L493.59 750.65M487.51 750.65L493.59 747.82M489.8 749.24a0.75 0.75 0 1 0 1.5 0a0.75 0.75 0 1 0 -1.5 0"/>
<line x1="44.25" y1="726.87" x2="44.25" y2="803.97" stroke="#000" stroke-width="1.8"/>
<line x1="39.1" y1="800.8" x2="44" y2="800.8" stroke="#333" stroke-width="1.6"/>
<text x="35" y="804.4" font-size="10.6" fill="#4D4D4D" text-anchor="end" textLength="14.6" lengthAdjust="spacingAndGlyphs">0.0</text>
<line x1="39.1" y1="783.63" x2="44" y2="783.63" stroke="#333" stroke-width="1.6"/>
<text x="35" y="787.23" font-size="10.6" fill="#4D4D4D" text-anchor="end" textLength="14.6" lengthAdjust="spacingAndGlyphs">0.1</text>
<line x1="39.1" y1="766.46" x2="44" y2="766.46" stroke="#333" stroke-width="1.6"/>
<text x="35" y="770.06" font-size="10.6" fill="#4D4D4D" text-anchor="end" textLength="14.6" lengthAdjust="spacingAndGlyphs">0.2</text>
<line x1="39.1" y1="749.29" x2="44" y2="749.29" stroke="#333" stroke-width="1.6"/>
<text x="35" y="752.89" font-size="10.6" fill="#4D4D4D" text-anchor="end" textLength="14.6" lengthAdjust="spacingAndGlyphs">0.3</text>
<line x1="39.1" y1="732.12" x2="44" y2="732.12" stroke="#333" stroke-width="1.6"/>
<text x="35" y="735.72" font-size="10.6" fill="#4D4D4D" text-anchor="end" textLength="14.6" lengthAdjust="spacingAndGlyphs">0.4</text>
<rect x="516" y="727.87" width="23" height="75.1" fill="#fff" stroke="#000" stroke-width="2"/>
<text transform="translate(524.2 485.5) rotate(90)" font-size="10.2" font-weight="bold" textLength="36.6" lengthAdjust="spacingAndGlyphs">p = 0.1</text>
<text transform="translate(524.2 568.5) rotate(90)" font-size="10.2" font-weight="bold" textLength="43.2" lengthAdjust="spacingAndGlyphs">p = 0.01</text>
<text transform="translate(524.2 653.2) rotate(90)" font-size="10.2" font-weight="bold" textLength="49.1" lengthAdjust="spacingAndGlyphs">p = 0.001</text>
<text transform="translate(524.2 734.2) rotate(90)" font-size="10.2" font-weight="bold"><tspan textLength="54.3" lengthAdjust="spacingAndGlyphs">p = 5 × 10</tspan><tspan font-size="6.2" dx="0.5" dy="-2.6" textLength="8.3" lengthAdjust="spacingAndGlyphs">−4</tspan></text>
<line x1="44.4" y1="804.17" x2="154" y2="804.17" stroke="#000" stroke-width="2"/>
<line x1="164.6" y1="804.17" x2="274.2" y2="804.17" stroke="#000" stroke-width="2"/>
<line x1="284.8" y1="804.17" x2="394.4" y2="804.17" stroke="#000" stroke-width="2"/>
<line x1="405" y1="804.17" x2="514.6" y2="804.17" stroke="#000" stroke-width="2"/>
<text transform="translate(14.4 639.8) rotate(-90)" font-size="11.3" fill="#1a1a1a"><tspan textLength="7.6" lengthAdjust="spacingAndGlyphs">R</tspan><tspan font-size="7.2" dy="-3.0">2</tspan></text>
</g>
<g stroke="#FF0000" stroke-width="0.85" stroke-linecap="round" fill="none">
<path fill="none" d="M564.3 93.55L564.3 97.65M562.42 94.72L566.18 96.48M562.42 96.48L566.18 94.72M563.83 95.6a0.46 0.46 0 1 0 0.93 0a0.46 0.46 0 1 0 -0.93 0"/>
<path fill="none" d="M569.3 93.55L569.3 97.65M567.42 94.72L571.18 96.48M567.42 96.48L571.18 94.72M568.83 95.6a0.46 0.46 0 1 0 0.93 0a0.46 0.46 0 1 0 -0.93 0"/>
<path fill="none" d="M567.3 111.35L567.3 115.45M565.42 112.52L569.18 114.28M565.42 114.28L569.18 112.52M566.83 113.4a0.46 0.46 0 1 0 0.93 0a0.46 0.46 0 1 0 -0.93 0"/>
</g>
<text x="576.4" y="100.4" font-size="11" fill="#333" textLength="64.8" lengthAdjust="spacingAndGlyphs">Best Method</text>
<text x="576.8" y="118.8" font-size="11" fill="#333" textLength="107.2" lengthAdjust="spacingAndGlyphs">Second Best Method</text>
<text x="568.4" y="343" font-size="12.3" font-weight="bold" textLength="81.2" lengthAdjust="spacingAndGlyphs">Auto method</text>
<rect x="568.8" y="351.7" width="30.1" height="29.8" fill="#E05079"/>
<text x="605.5" y="370.3" font-size="10.2" fill="#333" textLength="63.5" lengthAdjust="spacingAndGlyphs">JointPRS-auto</text>
<rect x="568.8" y="384.4" width="30.1" height="29.8" fill="#EE8A26"/>
<text x="605.5" y="403" font-size="10.2" fill="#333" textLength="29.8" lengthAdjust="spacingAndGlyphs">XPASS</text>
<rect x="568.8" y="417.1" width="30.1" height="29.8" fill="#EAC356"/>
<text x="605.5" y="435.7" font-size="10.2" fill="#333" textLength="31.2" lengthAdjust="spacingAndGlyphs">SDPRX</text>
<rect x="568.8" y="449.8" width="30.1" height="29.8" fill="#F2C5C9"/>
<text x="605.5" y="468.4" font-size="10.2" fill="#333" textLength="64" lengthAdjust="spacingAndGlyphs">PRS-CSx-auto</text>
</svg>
</body></html>
